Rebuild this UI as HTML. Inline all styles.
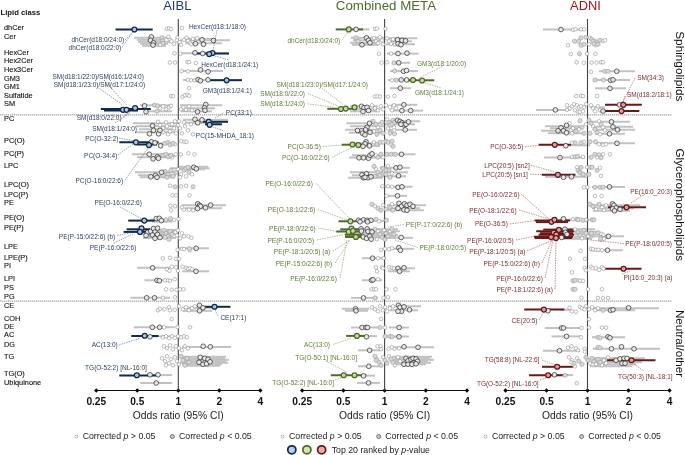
<!DOCTYPE html>
<html><head><meta charset="utf-8"><title>Lipid forest plot</title>
<style>html,body{margin:0;padding:0;background:#fff;width:685px;height:455px;overflow:hidden}</style>
</head><body>
<svg width="685" height="455" viewBox="0 0 685 455" style="display:block;will-change:transform">
<line x1="0" y1="114.9" x2="672.2" y2="114.9" stroke="#a4a4a4" stroke-width="1.1" stroke-dasharray="1.3,0.7"/>
<line x1="0" y1="301.1" x2="672.2" y2="301.1" stroke="#a4a4a4" stroke-width="1.1" stroke-dasharray="1.3,0.7"/>
<text x="0.5" y="14.5" font-family='"Liberation Sans", sans-serif' font-size="7.7" font-weight="bold" fill="#111">Lipid class</text>
<text x="4" y="29.9" font-family='"Liberation Sans", sans-serif' font-size="7.35" fill="#111" stroke="#111" stroke-width="0.12">dhCer</text>
<text x="4" y="38.6" font-family='"Liberation Sans", sans-serif' font-size="7.35" fill="#111" stroke="#111" stroke-width="0.12">Cer</text>
<text x="4" y="54.5" font-family='"Liberation Sans", sans-serif' font-size="7.35" fill="#111" stroke="#111" stroke-width="0.12">HexCer</text>
<text x="4" y="63.3" font-family='"Liberation Sans", sans-serif' font-size="7.35" fill="#111" stroke="#111" stroke-width="0.12">Hex2Cer</text>
<text x="4" y="72.1" font-family='"Liberation Sans", sans-serif' font-size="7.35" fill="#111" stroke="#111" stroke-width="0.12">Hex3Cer</text>
<text x="4" y="80.8" font-family='"Liberation Sans", sans-serif' font-size="7.35" fill="#111" stroke="#111" stroke-width="0.12">GM3</text>
<text x="4" y="89.4" font-family='"Liberation Sans", sans-serif' font-size="7.35" fill="#111" stroke="#111" stroke-width="0.12">GM1</text>
<text x="4" y="97.5" font-family='"Liberation Sans", sans-serif' font-size="7.35" fill="#111" stroke="#111" stroke-width="0.12">Sulfatide</text>
<text x="4" y="105.9" font-family='"Liberation Sans", sans-serif' font-size="7.35" fill="#111" stroke="#111" stroke-width="0.12">SM</text>
<text x="4" y="121.0" font-family='"Liberation Sans", sans-serif' font-size="7.35" fill="#111" stroke="#111" stroke-width="0.12">PC</text>
<text x="4" y="142.6" font-family='"Liberation Sans", sans-serif' font-size="7.35" fill="#111" stroke="#111" stroke-width="0.12">PC(O)</text>
<text x="4" y="155.7" font-family='"Liberation Sans", sans-serif' font-size="7.35" fill="#111" stroke="#111" stroke-width="0.12">PC(P)</text>
<text x="4" y="167.7" font-family='"Liberation Sans", sans-serif' font-size="7.35" fill="#111" stroke="#111" stroke-width="0.12">LPC</text>
<text x="4" y="187.2" font-family='"Liberation Sans", sans-serif' font-size="7.35" fill="#111" stroke="#111" stroke-width="0.12">LPC(O)</text>
<text x="4" y="196.9" font-family='"Liberation Sans", sans-serif' font-size="7.35" fill="#111" stroke="#111" stroke-width="0.12">LPC(P)</text>
<text x="4" y="205.1" font-family='"Liberation Sans", sans-serif' font-size="7.35" fill="#111" stroke="#111" stroke-width="0.12">PE</text>
<text x="4" y="219.7" font-family='"Liberation Sans", sans-serif' font-size="7.35" fill="#111" stroke="#111" stroke-width="0.12">PE(O)</text>
<text x="4" y="230.4" font-family='"Liberation Sans", sans-serif' font-size="7.35" fill="#111" stroke="#111" stroke-width="0.12">PE(P)</text>
<text x="4" y="248.9" font-family='"Liberation Sans", sans-serif' font-size="7.35" fill="#111" stroke="#111" stroke-width="0.12">LPE</text>
<text x="4" y="259.5" font-family='"Liberation Sans", sans-serif' font-size="7.35" fill="#111" stroke="#111" stroke-width="0.12">LPE(P)</text>
<text x="4" y="267.7" font-family='"Liberation Sans", sans-serif' font-size="7.35" fill="#111" stroke="#111" stroke-width="0.12">PI</text>
<text x="4" y="280.6" font-family='"Liberation Sans", sans-serif' font-size="7.35" fill="#111" stroke="#111" stroke-width="0.12">LPI</text>
<text x="4" y="289.9" font-family='"Liberation Sans", sans-serif' font-size="7.35" fill="#111" stroke="#111" stroke-width="0.12">PS</text>
<text x="4" y="298.7" font-family='"Liberation Sans", sans-serif' font-size="7.35" fill="#111" stroke="#111" stroke-width="0.12">PG</text>
<text x="4" y="307.5" font-family='"Liberation Sans", sans-serif' font-size="7.35" fill="#111" stroke="#111" stroke-width="0.12">CE</text>
<text x="4" y="320.6" font-family='"Liberation Sans", sans-serif' font-size="7.35" fill="#111" stroke="#111" stroke-width="0.12">COH</text>
<text x="4" y="328.5" font-family='"Liberation Sans", sans-serif' font-size="7.35" fill="#111" stroke="#111" stroke-width="0.12">DE</text>
<text x="4" y="336.8" font-family='"Liberation Sans", sans-serif' font-size="7.35" fill="#111" stroke="#111" stroke-width="0.12">AC</text>
<text x="4" y="347.0" font-family='"Liberation Sans", sans-serif' font-size="7.35" fill="#111" stroke="#111" stroke-width="0.12">DG</text>
<text x="4" y="359.1" font-family='"Liberation Sans", sans-serif' font-size="7.35" fill="#111" stroke="#111" stroke-width="0.12">TG</text>
<text x="4" y="376.2" font-family='"Liberation Sans", sans-serif' font-size="7.35" fill="#111" stroke="#111" stroke-width="0.12">TG(O)</text>
<text x="4" y="385.3" font-family='"Liberation Sans", sans-serif' font-size="7.35" fill="#111" stroke="#111" stroke-width="0.12">Ubiquinone</text>
<text transform="translate(676.3,31.2) rotate(90)" x="0" y="0" font-family='"Liberation Sans", sans-serif' font-size="11.8" fill="#111">Sphingolipids</text>
<text transform="translate(676.3,148.4) rotate(90)" x="0" y="0" font-family='"Liberation Sans", sans-serif' font-size="11.8" fill="#111">Glycerophospholipids</text>
<text transform="translate(676.3,309.9) rotate(90)" x="0" y="0" font-family='"Liberation Sans", sans-serif' font-size="11.65" fill="#111">Neutral/other</text>
<text x="177.3" y="9.9" text-anchor="middle" font-family='"Liberation Sans", sans-serif' font-size="13.0" fill="#1d3a78">AIBL</text>
<line x1="96.30000000000001" y1="390.5" x2="260.3" y2="390.5" stroke="#111" stroke-width="1"/>
<path d="M94.10000000000001,390.5 L96.30000000000001,388.3 L98.50000000000001,390.5 L96.30000000000001,392.7Z" fill="#000"/>
<text x="96.30000000000001" y="404.5" text-anchor="middle" font-family='"Liberation Sans", sans-serif' font-size="10.2" font-weight="bold" fill="#111">0.25</text>
<path d="M135.10000000000002,390.5 L137.3,388.3 L139.5,390.5 L137.3,392.7Z" fill="#000"/>
<text x="137.3" y="404.5" text-anchor="middle" font-family='"Liberation Sans", sans-serif' font-size="10.2" font-weight="bold" fill="#111">0.5</text>
<path d="M176.10000000000002,390.5 L178.3,388.3 L180.5,390.5 L178.3,392.7Z" fill="#000"/>
<text x="178.3" y="404.5" text-anchor="middle" font-family='"Liberation Sans", sans-serif' font-size="10.2" font-weight="bold" fill="#111">1</text>
<path d="M217.10000000000002,390.5 L219.3,388.3 L221.5,390.5 L219.3,392.7Z" fill="#000"/>
<text x="219.3" y="404.5" text-anchor="middle" font-family='"Liberation Sans", sans-serif' font-size="10.2" font-weight="bold" fill="#111">2</text>
<path d="M258.1,390.5 L260.3,388.3 L262.5,390.5 L260.3,392.7Z" fill="#000"/>
<text x="260.3" y="404.5" text-anchor="middle" font-family='"Liberation Sans", sans-serif' font-size="10.2" font-weight="bold" fill="#111">4</text>
<text x="178.3" y="419.4" text-anchor="middle" font-family='"Liberation Sans", sans-serif' font-size="10.3" fill="#222">Odds ratio (95% CI)</text>
<circle cx="76.30000000000001" cy="436.6" r="1.5" fill="#fff" stroke="#888" stroke-width="0.6"/>
<text x="82.70000000000002" y="438.8" font-family='"Liberation Sans", sans-serif' font-size="8.75" fill="#222">Corrected <tspan font-style="italic">p</tspan> &gt; 0.05</text>
<circle cx="172.4" cy="436.5" r="2" fill="#ccc" stroke="#444" stroke-width="0.7"/>
<text x="179.0" y="438.8" font-family='"Liberation Sans", sans-serif' font-size="8.75" fill="#222">Corrected <tspan font-style="italic">p</tspan> &lt; 0.05</text>
<line x1="134.0" y1="37.8" x2="169.0" y2="37.8" stroke="#c2c2c2" stroke-width="2.0"/>
<line x1="137.0" y1="39.8" x2="165.0" y2="39.8" stroke="#c2c2c2" stroke-width="2.0"/>
<line x1="138.0" y1="41.8" x2="170.0" y2="41.8" stroke="#c2c2c2" stroke-width="2.0"/>
<line x1="140.0" y1="43.8" x2="168.0" y2="43.8" stroke="#c2c2c2" stroke-width="2.0"/>
<line x1="142.0" y1="45.8" x2="166.0" y2="45.8" stroke="#c2c2c2" stroke-width="2.0"/>
<line x1="180.0" y1="40.3" x2="230.0" y2="40.3" stroke="#c2c2c2" stroke-width="2.0"/>
<line x1="185.0" y1="43.3" x2="222.0" y2="43.3" stroke="#c2c2c2" stroke-width="2.0"/>
<line x1="183.0" y1="38.8" x2="215.0" y2="38.8" stroke="#c2c2c2" stroke-width="2.0"/>
<line x1="180.0" y1="53.3" x2="229.0" y2="53.3" stroke="#c2c2c2" stroke-width="2.0"/>
<line x1="182.0" y1="71.1" x2="223.0" y2="71.1" stroke="#c2c2c2" stroke-width="2.0"/>
<line x1="183.0" y1="80.1" x2="242.0" y2="80.1" stroke="#c2c2c2" stroke-width="2.0"/>
<line x1="140.0" y1="105.3" x2="172.0" y2="105.3" stroke="#c2c2c2" stroke-width="2.0"/>
<line x1="145.0" y1="111.3" x2="172.0" y2="111.3" stroke="#c2c2c2" stroke-width="2.0"/>
<line x1="180.0" y1="105.3" x2="222.0" y2="105.3" stroke="#c2c2c2" stroke-width="2.0"/>
<line x1="183.0" y1="108.3" x2="215.0" y2="108.3" stroke="#c2c2c2" stroke-width="2.0"/>
<line x1="181.0" y1="111.3" x2="212.0" y2="111.3" stroke="#c2c2c2" stroke-width="2.0"/>
<line x1="133.0" y1="123.3" x2="178.0" y2="123.3" stroke="#c2c2c2" stroke-width="2.0"/>
<line x1="136.0" y1="126.3" x2="178.0" y2="126.3" stroke="#c2c2c2" stroke-width="2.0"/>
<line x1="139.0" y1="129.3" x2="176.0" y2="129.3" stroke="#c2c2c2" stroke-width="2.0"/>
<line x1="135.0" y1="132.3" x2="175.0" y2="132.3" stroke="#c2c2c2" stroke-width="2.0"/>
<line x1="183.0" y1="119.8" x2="228.0" y2="119.8" stroke="#c2c2c2" stroke-width="2.0"/>
<line x1="185.0" y1="122.8" x2="220.0" y2="122.8" stroke="#c2c2c2" stroke-width="2.0"/>
<line x1="150.0" y1="143.3" x2="172.0" y2="143.3" stroke="#c2c2c2" stroke-width="2.0"/>
<line x1="132.0" y1="154.3" x2="172.0" y2="154.3" stroke="#c2c2c2" stroke-width="2.0"/>
<line x1="137.0" y1="157.3" x2="170.0" y2="157.3" stroke="#c2c2c2" stroke-width="2.0"/>
<line x1="160.0" y1="155.8" x2="176.0" y2="155.8" stroke="#c2c2c2" stroke-width="2.0"/>
<line x1="135.0" y1="172.3" x2="178.0" y2="172.3" stroke="#c2c2c2" stroke-width="2.0"/>
<line x1="138.0" y1="175.3" x2="176.0" y2="175.3" stroke="#c2c2c2" stroke-width="2.0"/>
<line x1="140.0" y1="177.3" x2="175.0" y2="177.3" stroke="#c2c2c2" stroke-width="2.0"/>
<line x1="170.0" y1="168.3" x2="209.6" y2="168.3" stroke="#c2c2c2" stroke-width="2.0"/>
<line x1="178.0" y1="166.8" x2="208.0" y2="166.8" stroke="#c2c2c2" stroke-width="2.0"/>
<line x1="180.0" y1="169.3" x2="205.0" y2="169.3" stroke="#c2c2c2" stroke-width="2.0"/>
<line x1="182.0" y1="205.3" x2="226.0" y2="205.3" stroke="#c2c2c2" stroke-width="2.0"/>
<line x1="185.0" y1="208.3" x2="222.0" y2="208.3" stroke="#c2c2c2" stroke-width="2.0"/>
<line x1="150.0" y1="219.8" x2="174.0" y2="219.8" stroke="#c2c2c2" stroke-width="2.0"/>
<line x1="152.0" y1="221.60000000000002" x2="172.0" y2="221.60000000000002" stroke="#c2c2c2" stroke-width="2.0"/>
<line x1="140.0" y1="230.0" x2="176.0" y2="230.0" stroke="#c2c2c2" stroke-width="2.0"/>
<line x1="142.0" y1="232.0" x2="175.0" y2="232.0" stroke="#c2c2c2" stroke-width="2.0"/>
<line x1="141.0" y1="234.0" x2="178.0" y2="234.0" stroke="#c2c2c2" stroke-width="2.0"/>
<line x1="145.0" y1="236.0" x2="172.0" y2="236.0" stroke="#c2c2c2" stroke-width="2.0"/>
<line x1="143.0" y1="238.0" x2="176.0" y2="238.0" stroke="#c2c2c2" stroke-width="2.0"/>
<line x1="178.0" y1="248.3" x2="209.0" y2="248.3" stroke="#c2c2c2" stroke-width="2.0"/>
<line x1="137.2" y1="267.8" x2="170.0" y2="267.8" stroke="#c2c2c2" stroke-width="2.0"/>
<line x1="182.0" y1="271.3" x2="209.0" y2="271.3" stroke="#c2c2c2" stroke-width="2.0"/>
<line x1="144.5" y1="280.3" x2="172.0" y2="280.3" stroke="#c2c2c2" stroke-width="2.0"/>
<line x1="130.4" y1="297.8" x2="170.0" y2="297.8" stroke="#c2c2c2" stroke-width="2.0"/>
<line x1="182.0" y1="307.8" x2="215.0" y2="307.8" stroke="#c2c2c2" stroke-width="2.0"/>
<line x1="183.0" y1="310.8" x2="212.0" y2="310.8" stroke="#c2c2c2" stroke-width="2.0"/>
<line x1="133.8" y1="327.3" x2="174.7" y2="327.3" stroke="#c2c2c2" stroke-width="2.0"/>
<line x1="150.0" y1="336.3" x2="170.0" y2="336.3" stroke="#c2c2c2" stroke-width="2.0"/>
<line x1="182.0" y1="347.0" x2="231.0" y2="347.0" stroke="#c2c2c2" stroke-width="2.0"/>
<line x1="180.0" y1="356.8" x2="226.0" y2="356.8" stroke="#c2c2c2" stroke-width="2.0"/>
<line x1="182.0" y1="358.3" x2="225.0" y2="358.3" stroke="#c2c2c2" stroke-width="2.0"/>
<line x1="181.0" y1="359.8" x2="229.0" y2="359.8" stroke="#c2c2c2" stroke-width="2.0"/>
<line x1="183.0" y1="361.3" x2="226.0" y2="361.3" stroke="#c2c2c2" stroke-width="2.0"/>
<line x1="180.0" y1="362.8" x2="228.0" y2="362.8" stroke="#c2c2c2" stroke-width="2.0"/>
<line x1="182.0" y1="364.3" x2="222.0" y2="364.3" stroke="#c2c2c2" stroke-width="2.0"/>
<line x1="184.0" y1="365.8" x2="220.0" y2="365.8" stroke="#c2c2c2" stroke-width="2.0"/>
<line x1="150.0" y1="375.1" x2="172.0" y2="375.1" stroke="#c2c2c2" stroke-width="2.0"/>
<line x1="140.3" y1="383.0" x2="172.0" y2="383.0" stroke="#c2c2c2" stroke-width="2.0"/>
<line x1="178.3" y1="19" x2="178.3" y2="390.5" stroke="#444" stroke-width="1.1"/>
<line x1="115.5" y1="29.5" x2="152.7" y2="29.5" stroke="#102a4c" stroke-width="2.0" stroke-linecap="butt"/>
<line x1="197.0" y1="53.5" x2="229.0" y2="53.5" stroke="#102a4c" stroke-width="2.0" stroke-linecap="butt"/>
<line x1="210.0" y1="80.2" x2="242.0" y2="80.2" stroke="#102a4c" stroke-width="2.0" stroke-linecap="butt"/>
<line x1="100.8" y1="108.89999999999999" x2="150.8" y2="108.89999999999999" stroke="#102a4c" stroke-width="2.0" stroke-linecap="butt"/>
<line x1="104.0" y1="110.5" x2="138.0" y2="110.5" stroke="#102a4c" stroke-width="2.0" stroke-linecap="butt"/>
<line x1="203.0" y1="121.8" x2="228.0" y2="121.8" stroke="#102a4c" stroke-width="2.0" stroke-linecap="butt"/>
<line x1="205.0" y1="124.3" x2="222.0" y2="124.3" stroke="#102a4c" stroke-width="2.0" stroke-linecap="butt"/>
<line x1="119.3" y1="142.3" x2="158.5" y2="142.3" stroke="#102a4c" stroke-width="2.0" stroke-linecap="butt"/>
<line x1="137.0" y1="144.5" x2="157.0" y2="144.5" stroke="#102a4c" stroke-width="2.0" stroke-linecap="butt"/>
<line x1="128.2" y1="220.60000000000002" x2="154.7" y2="220.60000000000002" stroke="#102a4c" stroke-width="2.0" stroke-linecap="butt"/>
<line x1="126.6" y1="229.3" x2="150.0" y2="229.3" stroke="#102a4c" stroke-width="2.0" stroke-linecap="butt"/>
<line x1="123.6" y1="231.9" x2="146.0" y2="231.9" stroke="#102a4c" stroke-width="2.0" stroke-linecap="butt"/>
<line x1="205.0" y1="306.8" x2="230.5" y2="306.8" stroke="#102a4c" stroke-width="2.0" stroke-linecap="butt"/>
<line x1="131.3" y1="336.0" x2="158.6" y2="336.0" stroke="#102a4c" stroke-width="2.0" stroke-linecap="butt"/>
<line x1="119.3" y1="375.40000000000003" x2="156.0" y2="375.40000000000003" stroke="#102a4c" stroke-width="2.0" stroke-linecap="butt"/>
<circle cx="166.8" cy="28.8" r="1.8" fill="#fff" stroke="#888" stroke-width="0.55"/>
<circle cx="169.0" cy="28.3" r="1.8" fill="#fff" stroke="#888" stroke-width="0.55"/>
<circle cx="171.0" cy="29.1" r="1.8" fill="#fff" stroke="#888" stroke-width="0.55"/>
<circle cx="182.0" cy="28.0" r="1.8" fill="#fff" stroke="#888" stroke-width="0.55"/>
<circle cx="160.5" cy="44.8" r="1.8" fill="#fff" stroke="#888" stroke-width="0.55"/>
<circle cx="168.5" cy="36.8" r="1.8" fill="#fff" stroke="#888" stroke-width="0.55"/>
<circle cx="170.0" cy="39.8" r="1.8" fill="#fff" stroke="#888" stroke-width="0.55"/>
<circle cx="171.5" cy="41.3" r="1.8" fill="#fff" stroke="#888" stroke-width="0.55"/>
<circle cx="174.0" cy="43.8" r="1.8" fill="#fff" stroke="#888" stroke-width="0.55"/>
<circle cx="177.5" cy="37.8" r="1.8" fill="#fff" stroke="#888" stroke-width="0.55"/>
<circle cx="177.0" cy="40.3" r="1.8" fill="#fff" stroke="#888" stroke-width="0.55"/>
<circle cx="179.5" cy="42.3" r="1.8" fill="#fff" stroke="#888" stroke-width="0.55"/>
<circle cx="181.0" cy="44.8" r="1.8" fill="#fff" stroke="#888" stroke-width="0.55"/>
<circle cx="186.5" cy="37.8" r="1.8" fill="#fff" stroke="#888" stroke-width="0.55"/>
<circle cx="188.0" cy="40.8" r="1.8" fill="#fff" stroke="#888" stroke-width="0.55"/>
<circle cx="190.0" cy="42.8" r="1.8" fill="#fff" stroke="#888" stroke-width="0.55"/>
<circle cx="184.0" cy="39.8" r="1.8" fill="#fff" stroke="#888" stroke-width="0.55"/>
<circle cx="193.0" cy="38.8" r="1.8" fill="#fff" stroke="#888" stroke-width="0.55"/>
<circle cx="191.0" cy="44.3" r="1.8" fill="#fff" stroke="#888" stroke-width="0.55"/>
<circle cx="197.0" cy="38.3" r="1.8" fill="#fff" stroke="#888" stroke-width="0.55"/>
<circle cx="174.5" cy="53.3" r="1.8" fill="#fff" stroke="#888" stroke-width="0.55"/>
<circle cx="180.5" cy="53.8" r="1.8" fill="#fff" stroke="#888" stroke-width="0.55"/>
<circle cx="169.8" cy="62.5" r="1.8" fill="#fff" stroke="#888" stroke-width="0.55"/>
<circle cx="175.0" cy="62.5" r="1.8" fill="#fff" stroke="#888" stroke-width="0.55"/>
<circle cx="187.5" cy="62.099999999999994" r="1.8" fill="#fff" stroke="#888" stroke-width="0.55"/>
<circle cx="189.0" cy="62.099999999999994" r="1.8" fill="#fff" stroke="#888" stroke-width="0.55"/>
<circle cx="195.8" cy="63.0" r="1.8" fill="#fff" stroke="#888" stroke-width="0.55"/>
<circle cx="181.6" cy="71.1" r="1.8" fill="#fff" stroke="#888" stroke-width="0.55"/>
<circle cx="188.0" cy="71.3" r="1.8" fill="#fff" stroke="#888" stroke-width="0.55"/>
<circle cx="187.8" cy="79.89999999999999" r="1.8" fill="#fff" stroke="#888" stroke-width="0.55"/>
<circle cx="191.0" cy="80.3" r="1.8" fill="#fff" stroke="#888" stroke-width="0.55"/>
<circle cx="195.0" cy="80.3" r="1.8" fill="#fff" stroke="#888" stroke-width="0.55"/>
<circle cx="189.0" cy="88.3" r="1.8" fill="#fff" stroke="#888" stroke-width="0.55"/>
<circle cx="171.2" cy="96.1" r="1.8" fill="#fff" stroke="#888" stroke-width="0.55"/>
<circle cx="173.0" cy="96.1" r="1.8" fill="#fff" stroke="#888" stroke-width="0.55"/>
<circle cx="182.5" cy="96.8" r="1.8" fill="#fff" stroke="#888" stroke-width="0.55"/>
<circle cx="185.0" cy="95.3" r="1.8" fill="#fff" stroke="#888" stroke-width="0.55"/>
<circle cx="187.5" cy="94.8" r="1.8" fill="#fff" stroke="#888" stroke-width="0.55"/>
<circle cx="189.0" cy="95.8" r="1.8" fill="#fff" stroke="#888" stroke-width="0.55"/>
<circle cx="160.0" cy="108.3" r="1.8" fill="#fff" stroke="#888" stroke-width="0.55"/>
<circle cx="163.0" cy="106.3" r="1.8" fill="#fff" stroke="#888" stroke-width="0.55"/>
<circle cx="166.0" cy="109.3" r="1.8" fill="#fff" stroke="#888" stroke-width="0.55"/>
<circle cx="169.0" cy="107.3" r="1.8" fill="#fff" stroke="#888" stroke-width="0.55"/>
<circle cx="171.0" cy="105.8" r="1.8" fill="#fff" stroke="#888" stroke-width="0.55"/>
<circle cx="181.0" cy="109.3" r="1.8" fill="#fff" stroke="#888" stroke-width="0.55"/>
<circle cx="183.5" cy="107.3" r="1.8" fill="#fff" stroke="#888" stroke-width="0.55"/>
<circle cx="186.0" cy="109.8" r="1.8" fill="#fff" stroke="#888" stroke-width="0.55"/>
<circle cx="189.0" cy="106.3" r="1.8" fill="#fff" stroke="#888" stroke-width="0.55"/>
<circle cx="192.0" cy="110.3" r="1.8" fill="#fff" stroke="#888" stroke-width="0.55"/>
<circle cx="158.0" cy="121.8" r="1.8" fill="#fff" stroke="#888" stroke-width="0.55"/>
<circle cx="160.0" cy="125.3" r="1.8" fill="#fff" stroke="#888" stroke-width="0.55"/>
<circle cx="163.0" cy="128.3" r="1.8" fill="#fff" stroke="#888" stroke-width="0.55"/>
<circle cx="166.0" cy="122.3" r="1.8" fill="#fff" stroke="#888" stroke-width="0.55"/>
<circle cx="167.0" cy="126.3" r="1.8" fill="#fff" stroke="#888" stroke-width="0.55"/>
<circle cx="170.0" cy="131.3" r="1.8" fill="#fff" stroke="#888" stroke-width="0.55"/>
<circle cx="172.0" cy="124.3" r="1.8" fill="#fff" stroke="#888" stroke-width="0.55"/>
<circle cx="174.0" cy="128.3" r="1.8" fill="#fff" stroke="#888" stroke-width="0.55"/>
<circle cx="176.0" cy="133.3" r="1.8" fill="#fff" stroke="#888" stroke-width="0.55"/>
<circle cx="175.0" cy="121.3" r="1.8" fill="#fff" stroke="#888" stroke-width="0.55"/>
<circle cx="168.0" cy="134.3" r="1.8" fill="#fff" stroke="#888" stroke-width="0.55"/>
<circle cx="163.0" cy="132.3" r="1.8" fill="#fff" stroke="#888" stroke-width="0.55"/>
<circle cx="178.0" cy="125.3" r="1.8" fill="#fff" stroke="#888" stroke-width="0.55"/>
<circle cx="180.0" cy="128.3" r="1.8" fill="#fff" stroke="#888" stroke-width="0.55"/>
<circle cx="182.0" cy="133.3" r="1.8" fill="#fff" stroke="#888" stroke-width="0.55"/>
<circle cx="185.0" cy="126.3" r="1.8" fill="#fff" stroke="#888" stroke-width="0.55"/>
<circle cx="188.0" cy="130.3" r="1.8" fill="#fff" stroke="#888" stroke-width="0.55"/>
<circle cx="191.0" cy="124.3" r="1.8" fill="#fff" stroke="#888" stroke-width="0.55"/>
<circle cx="193.0" cy="134.3" r="1.8" fill="#fff" stroke="#888" stroke-width="0.55"/>
<circle cx="179.0" cy="121.3" r="1.8" fill="#fff" stroke="#888" stroke-width="0.55"/>
<circle cx="184.0" cy="122.3" r="1.8" fill="#fff" stroke="#888" stroke-width="0.55"/>
<circle cx="175.0" cy="144.3" r="1.8" fill="#fff" stroke="#888" stroke-width="0.55"/>
<circle cx="181.4" cy="141.3" r="1.8" fill="#fff" stroke="#888" stroke-width="0.55"/>
<circle cx="184.5" cy="141.8" r="1.8" fill="#fff" stroke="#888" stroke-width="0.55"/>
<circle cx="186.5" cy="141.8" r="1.8" fill="#fff" stroke="#888" stroke-width="0.55"/>
<circle cx="172.0" cy="157.3" r="1.8" fill="#fff" stroke="#888" stroke-width="0.55"/>
<circle cx="175.8" cy="154.3" r="1.8" fill="#fff" stroke="#888" stroke-width="0.55"/>
<circle cx="180.7" cy="154.3" r="1.8" fill="#fff" stroke="#888" stroke-width="0.55"/>
<circle cx="188.4" cy="153.3" r="1.8" fill="#fff" stroke="#888" stroke-width="0.55"/>
<circle cx="194.4" cy="154.3" r="1.8" fill="#fff" stroke="#888" stroke-width="0.55"/>
<circle cx="178.0" cy="169.3" r="1.8" fill="#fff" stroke="#888" stroke-width="0.55"/>
<circle cx="181.0" cy="174.3" r="1.8" fill="#fff" stroke="#888" stroke-width="0.55"/>
<circle cx="186.0" cy="176.3" r="1.8" fill="#fff" stroke="#888" stroke-width="0.55"/>
<circle cx="192.0" cy="174.3" r="1.8" fill="#fff" stroke="#888" stroke-width="0.55"/>
<circle cx="180.0" cy="177.3" r="1.8" fill="#fff" stroke="#888" stroke-width="0.55"/>
<circle cx="170.0" cy="185.8" r="1.8" fill="#fff" stroke="#888" stroke-width="0.55"/>
<circle cx="181.0" cy="186.3" r="1.8" fill="#fff" stroke="#888" stroke-width="0.55"/>
<circle cx="186.0" cy="185.8" r="1.8" fill="#fff" stroke="#888" stroke-width="0.55"/>
<circle cx="172.5" cy="195.3" r="1.8" fill="#fff" stroke="#888" stroke-width="0.55"/>
<circle cx="176.0" cy="195.3" r="1.8" fill="#fff" stroke="#888" stroke-width="0.55"/>
<circle cx="189.5" cy="195.3" r="1.8" fill="#fff" stroke="#888" stroke-width="0.55"/>
<circle cx="175.0" cy="206.3" r="1.8" fill="#fff" stroke="#888" stroke-width="0.55"/>
<circle cx="182.0" cy="207.3" r="1.8" fill="#fff" stroke="#888" stroke-width="0.55"/>
<circle cx="184.0" cy="209.8" r="1.8" fill="#fff" stroke="#888" stroke-width="0.55"/>
<circle cx="189.0" cy="209.8" r="1.8" fill="#fff" stroke="#888" stroke-width="0.55"/>
<circle cx="193.0" cy="210.3" r="1.8" fill="#fff" stroke="#888" stroke-width="0.55"/>
<circle cx="170.5" cy="205.8" r="1.8" fill="#fff" stroke="#888" stroke-width="0.55"/>
<circle cx="171.0" cy="210.3" r="1.8" fill="#fff" stroke="#888" stroke-width="0.55"/>
<circle cx="174.0" cy="219.8" r="1.8" fill="#fff" stroke="#888" stroke-width="0.55"/>
<circle cx="178.6" cy="219.0" r="1.8" fill="#fff" stroke="#888" stroke-width="0.55"/>
<circle cx="175.3" cy="232.3" r="1.8" fill="#fff" stroke="#888" stroke-width="0.55"/>
<circle cx="177.0" cy="235.3" r="1.8" fill="#fff" stroke="#888" stroke-width="0.55"/>
<circle cx="178.0" cy="230.3" r="1.8" fill="#fff" stroke="#888" stroke-width="0.55"/>
<circle cx="180.0" cy="238.3" r="1.8" fill="#fff" stroke="#888" stroke-width="0.55"/>
<circle cx="182.0" cy="233.3" r="1.8" fill="#fff" stroke="#888" stroke-width="0.55"/>
<circle cx="184.0" cy="236.3" r="1.8" fill="#fff" stroke="#888" stroke-width="0.55"/>
<circle cx="188.4" cy="236.3" r="1.8" fill="#fff" stroke="#888" stroke-width="0.55"/>
<circle cx="191.4" cy="237.8" r="1.8" fill="#fff" stroke="#888" stroke-width="0.55"/>
<circle cx="190.0" cy="250.3" r="1.8" fill="#fff" stroke="#888" stroke-width="0.55"/>
<circle cx="177.6" cy="249.8" r="1.8" fill="#fff" stroke="#888" stroke-width="0.55"/>
<circle cx="182.0" cy="248.8" r="1.8" fill="#fff" stroke="#888" stroke-width="0.55"/>
<circle cx="184.0" cy="249.3" r="1.8" fill="#fff" stroke="#888" stroke-width="0.55"/>
<circle cx="162.8" cy="258.3" r="1.8" fill="#fff" stroke="#888" stroke-width="0.55"/>
<circle cx="170.0" cy="257.8" r="1.8" fill="#fff" stroke="#888" stroke-width="0.55"/>
<circle cx="175.9" cy="258.8" r="1.8" fill="#fff" stroke="#888" stroke-width="0.55"/>
<circle cx="179.0" cy="258.8" r="1.8" fill="#fff" stroke="#888" stroke-width="0.55"/>
<circle cx="167.0" cy="269.3" r="1.8" fill="#fff" stroke="#888" stroke-width="0.55"/>
<circle cx="169.5" cy="270.8" r="1.8" fill="#fff" stroke="#888" stroke-width="0.55"/>
<circle cx="172.0" cy="266.8" r="1.8" fill="#fff" stroke="#888" stroke-width="0.55"/>
<circle cx="176.0" cy="267.3" r="1.8" fill="#fff" stroke="#888" stroke-width="0.55"/>
<circle cx="178.0" cy="270.8" r="1.8" fill="#fff" stroke="#888" stroke-width="0.55"/>
<circle cx="182.6" cy="266.8" r="1.8" fill="#fff" stroke="#888" stroke-width="0.55"/>
<circle cx="186.0" cy="267.8" r="1.8" fill="#fff" stroke="#888" stroke-width="0.55"/>
<circle cx="188.0" cy="268.8" r="1.8" fill="#fff" stroke="#888" stroke-width="0.55"/>
<circle cx="190.0" cy="268.3" r="1.8" fill="#fff" stroke="#888" stroke-width="0.55"/>
<circle cx="192.0" cy="269.3" r="1.8" fill="#fff" stroke="#888" stroke-width="0.55"/>
<circle cx="165.0" cy="280.3" r="1.8" fill="#fff" stroke="#888" stroke-width="0.55"/>
<circle cx="168.0" cy="280.3" r="1.8" fill="#fff" stroke="#888" stroke-width="0.55"/>
<circle cx="170.0" cy="280.8" r="1.8" fill="#fff" stroke="#888" stroke-width="0.55"/>
<circle cx="174.7" cy="279.3" r="1.8" fill="#fff" stroke="#888" stroke-width="0.55"/>
<circle cx="166.0" cy="289.3" r="1.8" fill="#fff" stroke="#888" stroke-width="0.55"/>
<circle cx="171.7" cy="289.8" r="1.8" fill="#fff" stroke="#888" stroke-width="0.55"/>
<circle cx="176.6" cy="289.8" r="1.8" fill="#fff" stroke="#888" stroke-width="0.55"/>
<circle cx="180.0" cy="289.3" r="1.8" fill="#fff" stroke="#888" stroke-width="0.55"/>
<circle cx="183.5" cy="289.3" r="1.8" fill="#fff" stroke="#888" stroke-width="0.55"/>
<circle cx="163.0" cy="297.8" r="1.8" fill="#fff" stroke="#888" stroke-width="0.55"/>
<circle cx="175.0" cy="297.3" r="1.8" fill="#fff" stroke="#888" stroke-width="0.55"/>
<circle cx="158.0" cy="310.3" r="1.8" fill="#fff" stroke="#888" stroke-width="0.55"/>
<circle cx="160.0" cy="308.8" r="1.8" fill="#fff" stroke="#888" stroke-width="0.55"/>
<circle cx="164.5" cy="309.3" r="1.8" fill="#fff" stroke="#888" stroke-width="0.55"/>
<circle cx="169.0" cy="307.3" r="1.8" fill="#fff" stroke="#888" stroke-width="0.55"/>
<circle cx="170.0" cy="310.3" r="1.8" fill="#fff" stroke="#888" stroke-width="0.55"/>
<circle cx="174.8" cy="309.8" r="1.8" fill="#fff" stroke="#888" stroke-width="0.55"/>
<circle cx="179.0" cy="306.3" r="1.8" fill="#fff" stroke="#888" stroke-width="0.55"/>
<circle cx="183.0" cy="309.3" r="1.8" fill="#fff" stroke="#888" stroke-width="0.55"/>
<circle cx="186.0" cy="307.3" r="1.8" fill="#fff" stroke="#888" stroke-width="0.55"/>
<circle cx="189.0" cy="310.3" r="1.8" fill="#fff" stroke="#888" stroke-width="0.55"/>
<circle cx="192.0" cy="308.3" r="1.8" fill="#fff" stroke="#888" stroke-width="0.55"/>
<circle cx="195.0" cy="306.3" r="1.8" fill="#fff" stroke="#888" stroke-width="0.55"/>
<circle cx="171.7" cy="319.1" r="1.8" fill="#fff" stroke="#888" stroke-width="0.55"/>
<circle cx="164.0" cy="327.3" r="1.8" fill="#fff" stroke="#888" stroke-width="0.55"/>
<circle cx="177.5" cy="327.1" r="1.8" fill="#fff" stroke="#888" stroke-width="0.55"/>
<circle cx="190.0" cy="327.3" r="1.8" fill="#fff" stroke="#888" stroke-width="0.55"/>
<circle cx="163.0" cy="337.3" r="1.8" fill="#fff" stroke="#888" stroke-width="0.55"/>
<circle cx="166.0" cy="336.3" r="1.8" fill="#fff" stroke="#888" stroke-width="0.55"/>
<circle cx="169.0" cy="338.3" r="1.8" fill="#fff" stroke="#888" stroke-width="0.55"/>
<circle cx="172.0" cy="336.3" r="1.8" fill="#fff" stroke="#888" stroke-width="0.55"/>
<circle cx="175.0" cy="337.8" r="1.8" fill="#fff" stroke="#888" stroke-width="0.55"/>
<circle cx="178.0" cy="336.3" r="1.8" fill="#fff" stroke="#888" stroke-width="0.55"/>
<circle cx="181.0" cy="337.3" r="1.8" fill="#fff" stroke="#888" stroke-width="0.55"/>
<circle cx="184.0" cy="336.3" r="1.8" fill="#fff" stroke="#888" stroke-width="0.55"/>
<circle cx="187.0" cy="337.3" r="1.8" fill="#fff" stroke="#888" stroke-width="0.55"/>
<circle cx="164.0" cy="346.3" r="1.8" fill="#fff" stroke="#888" stroke-width="0.55"/>
<circle cx="167.0" cy="348.3" r="1.8" fill="#fff" stroke="#888" stroke-width="0.55"/>
<circle cx="170.0" cy="345.3" r="1.8" fill="#fff" stroke="#888" stroke-width="0.55"/>
<circle cx="173.0" cy="349.3" r="1.8" fill="#fff" stroke="#888" stroke-width="0.55"/>
<circle cx="176.0" cy="346.3" r="1.8" fill="#fff" stroke="#888" stroke-width="0.55"/>
<circle cx="179.0" cy="348.3" r="1.8" fill="#fff" stroke="#888" stroke-width="0.55"/>
<circle cx="182.0" cy="350.3" r="1.8" fill="#fff" stroke="#888" stroke-width="0.55"/>
<circle cx="185.0" cy="346.3" r="1.8" fill="#fff" stroke="#888" stroke-width="0.55"/>
<circle cx="188.0" cy="348.3" r="1.8" fill="#fff" stroke="#888" stroke-width="0.55"/>
<circle cx="162.0" cy="358.3" r="1.8" fill="#fff" stroke="#888" stroke-width="0.55"/>
<circle cx="165.0" cy="361.3" r="1.8" fill="#fff" stroke="#888" stroke-width="0.55"/>
<circle cx="167.0" cy="356.3" r="1.8" fill="#fff" stroke="#888" stroke-width="0.55"/>
<circle cx="169.0" cy="363.3" r="1.8" fill="#fff" stroke="#888" stroke-width="0.55"/>
<circle cx="171.0" cy="359.3" r="1.8" fill="#fff" stroke="#888" stroke-width="0.55"/>
<circle cx="173.0" cy="365.3" r="1.8" fill="#fff" stroke="#888" stroke-width="0.55"/>
<circle cx="175.0" cy="357.3" r="1.8" fill="#fff" stroke="#888" stroke-width="0.55"/>
<circle cx="177.0" cy="361.3" r="1.8" fill="#fff" stroke="#888" stroke-width="0.55"/>
<circle cx="179.0" cy="364.3" r="1.8" fill="#fff" stroke="#888" stroke-width="0.55"/>
<circle cx="166.0" cy="365.3" r="1.8" fill="#fff" stroke="#888" stroke-width="0.55"/>
<circle cx="162.0" cy="37.8" r="2.1" fill="#d8d8d8" stroke="#999" stroke-width="0.6"/>
<circle cx="162.5" cy="40.8" r="2.1" fill="#d8d8d8" stroke="#999" stroke-width="0.6"/>
<circle cx="163.0" cy="43.3" r="2.1" fill="#d8d8d8" stroke="#999" stroke-width="0.6"/>
<circle cx="154.5" cy="105.1" r="2.1" fill="#d8d8d8" stroke="#999" stroke-width="0.6"/>
<circle cx="157.0" cy="111.3" r="2.1" fill="#d8d8d8" stroke="#999" stroke-width="0.6"/>
<circle cx="157.5" cy="105.8" r="2.1" fill="#d8d8d8" stroke="#999" stroke-width="0.6"/>
<circle cx="165.0" cy="143.3" r="2.1" fill="#d8d8d8" stroke="#999" stroke-width="0.6"/>
<circle cx="168.0" cy="142.3" r="2.1" fill="#d8d8d8" stroke="#999" stroke-width="0.6"/>
<circle cx="170.0" cy="144.8" r="2.1" fill="#d8d8d8" stroke="#999" stroke-width="0.6"/>
<circle cx="173.0" cy="143.3" r="2.1" fill="#d8d8d8" stroke="#999" stroke-width="0.6"/>
<circle cx="163.0" cy="155.3" r="2.1" fill="#d8d8d8" stroke="#999" stroke-width="0.6"/>
<circle cx="166.0" cy="154.3" r="2.1" fill="#d8d8d8" stroke="#999" stroke-width="0.6"/>
<circle cx="168.0" cy="156.8" r="2.1" fill="#d8d8d8" stroke="#999" stroke-width="0.6"/>
<circle cx="171.0" cy="155.3" r="2.1" fill="#d8d8d8" stroke="#999" stroke-width="0.6"/>
<circle cx="165.0" cy="171.3" r="2.1" fill="#d8d8d8" stroke="#999" stroke-width="0.6"/>
<circle cx="168.0" cy="174.3" r="2.1" fill="#d8d8d8" stroke="#999" stroke-width="0.6"/>
<circle cx="171.0" cy="170.3" r="2.1" fill="#d8d8d8" stroke="#999" stroke-width="0.6"/>
<circle cx="173.0" cy="176.3" r="2.1" fill="#d8d8d8" stroke="#999" stroke-width="0.6"/>
<circle cx="176.0" cy="172.3" r="2.1" fill="#d8d8d8" stroke="#999" stroke-width="0.6"/>
<circle cx="163.0" cy="175.3" r="2.1" fill="#d8d8d8" stroke="#999" stroke-width="0.6"/>
<circle cx="167.0" cy="177.3" r="2.1" fill="#d8d8d8" stroke="#999" stroke-width="0.6"/>
<circle cx="184.0" cy="170.3" r="2.1" fill="#d8d8d8" stroke="#999" stroke-width="0.6"/>
<circle cx="186.0" cy="168.3" r="2.1" fill="#d8d8d8" stroke="#999" stroke-width="0.6"/>
<circle cx="189.0" cy="172.3" r="2.1" fill="#d8d8d8" stroke="#999" stroke-width="0.6"/>
<circle cx="188.0" cy="167.3" r="2.1" fill="#d8d8d8" stroke="#999" stroke-width="0.6"/>
<circle cx="175.0" cy="186.8" r="2.1" fill="#d8d8d8" stroke="#999" stroke-width="0.6"/>
<circle cx="193.0" cy="186.8" r="2.1" fill="#d8d8d8" stroke="#999" stroke-width="0.6"/>
<circle cx="166.0" cy="219.8" r="2.1" fill="#d8d8d8" stroke="#999" stroke-width="0.6"/>
<circle cx="170.5" cy="218.60000000000002" r="2.1" fill="#d8d8d8" stroke="#999" stroke-width="0.6"/>
<circle cx="164.0" cy="230.3" r="2.1" fill="#d8d8d8" stroke="#999" stroke-width="0.6"/>
<circle cx="166.0" cy="233.3" r="2.1" fill="#d8d8d8" stroke="#999" stroke-width="0.6"/>
<circle cx="168.0" cy="236.3" r="2.1" fill="#d8d8d8" stroke="#999" stroke-width="0.6"/>
<circle cx="170.0" cy="231.3" r="2.1" fill="#d8d8d8" stroke="#999" stroke-width="0.6"/>
<circle cx="172.0" cy="234.3" r="2.1" fill="#d8d8d8" stroke="#999" stroke-width="0.6"/>
<circle cx="165.0" cy="237.3" r="2.1" fill="#d8d8d8" stroke="#999" stroke-width="0.6"/>
<circle cx="169.0" cy="239.3" r="2.1" fill="#d8d8d8" stroke="#999" stroke-width="0.6"/>
<circle cx="189.3" cy="248.60000000000002" r="2.1" fill="#d8d8d8" stroke="#999" stroke-width="0.6"/>
<circle cx="181.0" cy="356.3" r="2.1" fill="#d8d8d8" stroke="#999" stroke-width="0.6"/>
<circle cx="183.0" cy="360.3" r="2.1" fill="#d8d8d8" stroke="#999" stroke-width="0.6"/>
<circle cx="185.0" cy="365.3" r="2.1" fill="#d8d8d8" stroke="#999" stroke-width="0.6"/>
<circle cx="187.0" cy="358.3" r="2.1" fill="#d8d8d8" stroke="#999" stroke-width="0.6"/>
<circle cx="189.0" cy="362.3" r="2.1" fill="#d8d8d8" stroke="#999" stroke-width="0.6"/>
<circle cx="151.3" cy="37.0" r="2.35" fill="#e6e6e6" stroke="#2a2a2a" stroke-width="0.7"/>
<circle cx="150.5" cy="40.3" r="2.35" fill="#e6e6e6" stroke="#2a2a2a" stroke-width="0.7"/>
<circle cx="153.5" cy="42.8" r="2.35" fill="#e6e6e6" stroke="#2a2a2a" stroke-width="0.7"/>
<circle cx="153.0" cy="45.099999999999994" r="2.35" fill="#e6e6e6" stroke="#2a2a2a" stroke-width="0.7"/>
<circle cx="202.0" cy="39.8" r="2.35" fill="#e6e6e6" stroke="#2a2a2a" stroke-width="0.7"/>
<circle cx="213.5" cy="40.5" r="2.35" fill="#e6e6e6" stroke="#2a2a2a" stroke-width="0.7"/>
<circle cx="195.5" cy="43.699999999999996" r="2.35" fill="#e6e6e6" stroke="#2a2a2a" stroke-width="0.7"/>
<circle cx="203.5" cy="44.3" r="2.35" fill="#e6e6e6" stroke="#2a2a2a" stroke-width="0.7"/>
<circle cx="195.0" cy="52.8" r="2.35" fill="#e6e6e6" stroke="#2a2a2a" stroke-width="0.7"/>
<circle cx="202.7" cy="53.5" r="2.35" fill="#e6e6e6" stroke="#2a2a2a" stroke-width="0.7"/>
<circle cx="200.5" cy="69.89999999999999" r="2.35" fill="#e6e6e6" stroke="#2a2a2a" stroke-width="0.7"/>
<circle cx="208.0" cy="71.8" r="2.35" fill="#e6e6e6" stroke="#2a2a2a" stroke-width="0.7"/>
<circle cx="198.1" cy="79.6" r="2.35" fill="#e6e6e6" stroke="#2a2a2a" stroke-width="0.7"/>
<circle cx="200.4" cy="80.8" r="2.35" fill="#e6e6e6" stroke="#2a2a2a" stroke-width="0.7"/>
<circle cx="208.0" cy="79.8" r="2.35" fill="#e6e6e6" stroke="#2a2a2a" stroke-width="0.7"/>
<circle cx="144.5" cy="105.8" r="2.35" fill="#e6e6e6" stroke="#2a2a2a" stroke-width="0.7"/>
<circle cx="146.0" cy="111.8" r="2.35" fill="#e6e6e6" stroke="#2a2a2a" stroke-width="0.7"/>
<circle cx="205.8" cy="104.5" r="2.35" fill="#e6e6e6" stroke="#2a2a2a" stroke-width="0.7"/>
<circle cx="204.5" cy="107.8" r="2.35" fill="#e6e6e6" stroke="#2a2a2a" stroke-width="0.7"/>
<circle cx="205.0" cy="110.3" r="2.35" fill="#e6e6e6" stroke="#2a2a2a" stroke-width="0.7"/>
<circle cx="197.5" cy="111.8" r="2.35" fill="#e6e6e6" stroke="#2a2a2a" stroke-width="0.7"/>
<circle cx="152.6" cy="125.8" r="2.35" fill="#e6e6e6" stroke="#2a2a2a" stroke-width="0.7"/>
<circle cx="153.5" cy="130.3" r="2.35" fill="#e6e6e6" stroke="#2a2a2a" stroke-width="0.7"/>
<circle cx="149.5" cy="133.8" r="2.35" fill="#e6e6e6" stroke="#2a2a2a" stroke-width="0.7"/>
<circle cx="158.6" cy="133.8" r="2.35" fill="#e6e6e6" stroke="#2a2a2a" stroke-width="0.7"/>
<circle cx="160.0" cy="130.3" r="2.35" fill="#e6e6e6" stroke="#2a2a2a" stroke-width="0.7"/>
<circle cx="195.0" cy="119.3" r="2.35" fill="#e6e6e6" stroke="#2a2a2a" stroke-width="0.7"/>
<circle cx="197.7" cy="122.8" r="2.35" fill="#e6e6e6" stroke="#2a2a2a" stroke-width="0.7"/>
<circle cx="202.0" cy="119.8" r="2.35" fill="#e6e6e6" stroke="#2a2a2a" stroke-width="0.7"/>
<circle cx="151.4" cy="141.8" r="2.35" fill="#e6e6e6" stroke="#2a2a2a" stroke-width="0.7"/>
<circle cx="155.0" cy="142.8" r="2.35" fill="#e6e6e6" stroke="#2a2a2a" stroke-width="0.7"/>
<circle cx="160.6" cy="145.8" r="2.35" fill="#e6e6e6" stroke="#2a2a2a" stroke-width="0.7"/>
<circle cx="149.3" cy="154.3" r="2.35" fill="#e6e6e6" stroke="#2a2a2a" stroke-width="0.7"/>
<circle cx="153.1" cy="158.8" r="2.35" fill="#e6e6e6" stroke="#2a2a2a" stroke-width="0.7"/>
<circle cx="157.4" cy="156.8" r="2.35" fill="#e6e6e6" stroke="#2a2a2a" stroke-width="0.7"/>
<circle cx="158.5" cy="158.3" r="2.35" fill="#e6e6e6" stroke="#2a2a2a" stroke-width="0.7"/>
<circle cx="150.8" cy="176.8" r="2.35" fill="#e6e6e6" stroke="#2a2a2a" stroke-width="0.7"/>
<circle cx="155.5" cy="175.3" r="2.35" fill="#e6e6e6" stroke="#2a2a2a" stroke-width="0.7"/>
<circle cx="161.6" cy="172.3" r="2.35" fill="#e6e6e6" stroke="#2a2a2a" stroke-width="0.7"/>
<circle cx="157.0" cy="177.3" r="2.35" fill="#e6e6e6" stroke="#2a2a2a" stroke-width="0.7"/>
<circle cx="193.8" cy="167.3" r="2.35" fill="#e6e6e6" stroke="#2a2a2a" stroke-width="0.7"/>
<circle cx="196.3" cy="168.8" r="2.35" fill="#e6e6e6" stroke="#2a2a2a" stroke-width="0.7"/>
<circle cx="197.7" cy="203.8" r="2.35" fill="#e6e6e6" stroke="#2a2a2a" stroke-width="0.7"/>
<circle cx="199.6" cy="205.3" r="2.35" fill="#e6e6e6" stroke="#2a2a2a" stroke-width="0.7"/>
<circle cx="200.5" cy="206.3" r="2.35" fill="#e6e6e6" stroke="#2a2a2a" stroke-width="0.7"/>
<circle cx="197.5" cy="208.60000000000002" r="2.35" fill="#e6e6e6" stroke="#2a2a2a" stroke-width="0.7"/>
<circle cx="205.5" cy="207.8" r="2.35" fill="#e6e6e6" stroke="#2a2a2a" stroke-width="0.7"/>
<circle cx="210.6" cy="205.10000000000002" r="2.35" fill="#e6e6e6" stroke="#2a2a2a" stroke-width="0.7"/>
<circle cx="156.3" cy="218.60000000000002" r="2.35" fill="#e6e6e6" stroke="#2a2a2a" stroke-width="0.7"/>
<circle cx="159.3" cy="218.3" r="2.35" fill="#e6e6e6" stroke="#2a2a2a" stroke-width="0.7"/>
<circle cx="161.4" cy="220.60000000000002" r="2.35" fill="#e6e6e6" stroke="#2a2a2a" stroke-width="0.7"/>
<circle cx="147.6" cy="232.4" r="2.35" fill="#e6e6e6" stroke="#2a2a2a" stroke-width="0.7"/>
<circle cx="146.0" cy="235.5" r="2.35" fill="#e6e6e6" stroke="#2a2a2a" stroke-width="0.7"/>
<circle cx="150.7" cy="231.4" r="2.35" fill="#e6e6e6" stroke="#2a2a2a" stroke-width="0.7"/>
<circle cx="153.5" cy="228.5" r="2.35" fill="#e6e6e6" stroke="#2a2a2a" stroke-width="0.7"/>
<circle cx="157.5" cy="228.20000000000002" r="2.35" fill="#e6e6e6" stroke="#2a2a2a" stroke-width="0.7"/>
<circle cx="155.0" cy="232.0" r="2.35" fill="#e6e6e6" stroke="#2a2a2a" stroke-width="0.7"/>
<circle cx="152.5" cy="235.0" r="2.35" fill="#e6e6e6" stroke="#2a2a2a" stroke-width="0.7"/>
<circle cx="157.5" cy="234.5" r="2.35" fill="#e6e6e6" stroke="#2a2a2a" stroke-width="0.7"/>
<circle cx="155.0" cy="238.3" r="2.35" fill="#e6e6e6" stroke="#2a2a2a" stroke-width="0.7"/>
<circle cx="160.0" cy="237.5" r="2.35" fill="#e6e6e6" stroke="#2a2a2a" stroke-width="0.7"/>
<circle cx="196.2" cy="248.3" r="2.35" fill="#e6e6e6" stroke="#2a2a2a" stroke-width="0.7"/>
<circle cx="152.6" cy="267.8" r="2.35" fill="#e6e6e6" stroke="#2a2a2a" stroke-width="0.7"/>
<circle cx="196.0" cy="271.3" r="2.35" fill="#e6e6e6" stroke="#2a2a2a" stroke-width="0.7"/>
<circle cx="157.0" cy="280.3" r="2.35" fill="#e6e6e6" stroke="#2a2a2a" stroke-width="0.7"/>
<circle cx="159.4" cy="280.8" r="2.35" fill="#e6e6e6" stroke="#2a2a2a" stroke-width="0.7"/>
<circle cx="146.7" cy="297.8" r="2.35" fill="#e6e6e6" stroke="#2a2a2a" stroke-width="0.7"/>
<circle cx="154.5" cy="297.8" r="2.35" fill="#e6e6e6" stroke="#2a2a2a" stroke-width="0.7"/>
<circle cx="199.5" cy="305.3" r="2.35" fill="#e6e6e6" stroke="#2a2a2a" stroke-width="0.7"/>
<circle cx="199.5" cy="310.8" r="2.35" fill="#e6e6e6" stroke="#2a2a2a" stroke-width="0.7"/>
<circle cx="203.0" cy="307.8" r="2.35" fill="#e6e6e6" stroke="#2a2a2a" stroke-width="0.7"/>
<circle cx="152.3" cy="327.3" r="2.35" fill="#e6e6e6" stroke="#2a2a2a" stroke-width="0.7"/>
<circle cx="159.6" cy="327.3" r="2.35" fill="#e6e6e6" stroke="#2a2a2a" stroke-width="0.7"/>
<circle cx="150.0" cy="336.8" r="2.35" fill="#e6e6e6" stroke="#2a2a2a" stroke-width="0.7"/>
<circle cx="203.2" cy="346.3" r="2.35" fill="#e6e6e6" stroke="#2a2a2a" stroke-width="0.7"/>
<circle cx="210.3" cy="346.8" r="2.35" fill="#e6e6e6" stroke="#2a2a2a" stroke-width="0.7"/>
<circle cx="200.2" cy="357.3" r="2.35" fill="#e6e6e6" stroke="#2a2a2a" stroke-width="0.7"/>
<circle cx="204.7" cy="358.3" r="2.35" fill="#e6e6e6" stroke="#2a2a2a" stroke-width="0.7"/>
<circle cx="208.0" cy="359.3" r="2.35" fill="#e6e6e6" stroke="#2a2a2a" stroke-width="0.7"/>
<circle cx="199.0" cy="362.3" r="2.35" fill="#e6e6e6" stroke="#2a2a2a" stroke-width="0.7"/>
<circle cx="203.0" cy="364.3" r="2.35" fill="#e6e6e6" stroke="#2a2a2a" stroke-width="0.7"/>
<circle cx="206.5" cy="363.8" r="2.35" fill="#e6e6e6" stroke="#2a2a2a" stroke-width="0.7"/>
<circle cx="210.0" cy="361.8" r="2.35" fill="#e6e6e6" stroke="#2a2a2a" stroke-width="0.7"/>
<circle cx="150.0" cy="374.8" r="2.35" fill="#e6e6e6" stroke="#2a2a2a" stroke-width="0.7"/>
<circle cx="158.0" cy="374.8" r="2.35" fill="#e6e6e6" stroke="#2a2a2a" stroke-width="0.7"/>
<circle cx="156.3" cy="383.0" r="2.35" fill="#e6e6e6" stroke="#2a2a2a" stroke-width="0.7"/>
<line x1="125.0" y1="39.8" x2="133.0" y2="32.0" stroke="#2f4262" stroke-width="0.5" stroke-dasharray="1.5,1"/>
<line x1="122.0" y1="47.5" x2="132.0" y2="33.0" stroke="#2f4262" stroke-width="0.5" stroke-dasharray="1.5,1"/>
<line x1="217.0" y1="30.0" x2="213.0" y2="50.0" stroke="#2f4262" stroke-width="0.5" stroke-dasharray="1.5,1"/>
<line x1="215.0" y1="56.0" x2="229.0" y2="60.0" stroke="#2f4262" stroke-width="0.5" stroke-dasharray="1.5,1"/>
<line x1="226.6" y1="83.0" x2="228.0" y2="86.0" stroke="#2f4262" stroke-width="0.5" stroke-dasharray="1.5,1"/>
<line x1="98.5" y1="88.0" x2="122.5" y2="104.8" stroke="#2f4262" stroke-width="0.5" stroke-dasharray="1.5,1"/>
<line x1="104.0" y1="80.0" x2="126.5" y2="104.8" stroke="#2f4262" stroke-width="0.5" stroke-dasharray="1.5,1"/>
<line x1="123.0" y1="117.0" x2="131.0" y2="111.0" stroke="#2f4262" stroke-width="0.5" stroke-dasharray="1.5,1"/>
<line x1="115.0" y1="123.0" x2="130.0" y2="113.0" stroke="#2f4262" stroke-width="0.5" stroke-dasharray="1.5,1"/>
<line x1="215.0" y1="118.0" x2="224.0" y2="112.7" stroke="#2f4262" stroke-width="0.5" stroke-dasharray="1.5,1"/>
<line x1="210.0" y1="126.0" x2="224.0" y2="131.0" stroke="#2f4262" stroke-width="0.5" stroke-dasharray="1.5,1"/>
<line x1="119.0" y1="138.0" x2="135.0" y2="141.0" stroke="#2f4262" stroke-width="0.5" stroke-dasharray="1.5,1"/>
<line x1="118.0" y1="155.0" x2="133.0" y2="144.0" stroke="#2f4262" stroke-width="0.5" stroke-dasharray="1.5,1"/>
<line x1="125.0" y1="180.0" x2="149.0" y2="147.0" stroke="#2f4262" stroke-width="0.5" stroke-dasharray="1.5,1"/>
<line x1="120.0" y1="207.0" x2="142.0" y2="219.0" stroke="#2f4262" stroke-width="0.5" stroke-dasharray="1.5,1"/>
<line x1="117.0" y1="235.5" x2="135.0" y2="232.0" stroke="#2f4262" stroke-width="0.5" stroke-dasharray="1.5,1"/>
<line x1="114.0" y1="243.0" x2="133.0" y2="234.0" stroke="#2f4262" stroke-width="0.5" stroke-dasharray="1.5,1"/>
<line x1="215.0" y1="310.0" x2="218.0" y2="316.0" stroke="#2f4262" stroke-width="0.5" stroke-dasharray="1.5,1"/>
<line x1="119.0" y1="345.0" x2="140.0" y2="338.0" stroke="#2f4262" stroke-width="0.5" stroke-dasharray="1.5,1"/>
<circle cx="134.4" cy="29.5" r="2.45" fill="#b9cde8" stroke="#102a4c" stroke-width="1.25"/>
<circle cx="134.4" cy="29.5" r="0.5" fill="#102a4c" opacity="0.25"/>
<circle cx="212.5" cy="53.099999999999994" r="2.45" fill="#b9cde8" stroke="#102a4c" stroke-width="1.25"/>
<circle cx="212.5" cy="53.099999999999994" r="0.5" fill="#102a4c" opacity="0.25"/>
<circle cx="209.2" cy="54.099999999999994" r="2.45" fill="#b9cde8" stroke="#102a4c" stroke-width="1.25"/>
<circle cx="209.2" cy="54.099999999999994" r="0.5" fill="#102a4c" opacity="0.25"/>
<circle cx="226.6" cy="80.2" r="2.45" fill="#b9cde8" stroke="#102a4c" stroke-width="1.25"/>
<circle cx="226.6" cy="80.2" r="0.5" fill="#102a4c" opacity="0.25"/>
<circle cx="123.0" cy="109.8" r="2.45" fill="#b9cde8" stroke="#102a4c" stroke-width="1.25"/>
<circle cx="123.0" cy="109.8" r="0.5" fill="#102a4c" opacity="0.25"/>
<circle cx="126.5" cy="109.8" r="2.45" fill="#b9cde8" stroke="#102a4c" stroke-width="1.25"/>
<circle cx="126.5" cy="109.8" r="0.5" fill="#102a4c" opacity="0.25"/>
<circle cx="135.1" cy="108.1" r="2.45" fill="#b9cde8" stroke="#102a4c" stroke-width="1.25"/>
<circle cx="135.1" cy="108.1" r="0.5" fill="#102a4c" opacity="0.25"/>
<circle cx="208.7" cy="121.8" r="2.45" fill="#b9cde8" stroke="#102a4c" stroke-width="1.25"/>
<circle cx="208.7" cy="121.8" r="0.5" fill="#102a4c" opacity="0.25"/>
<circle cx="209.6" cy="124.8" r="2.45" fill="#b9cde8" stroke="#102a4c" stroke-width="1.25"/>
<circle cx="209.6" cy="124.8" r="0.5" fill="#102a4c" opacity="0.25"/>
<circle cx="135.9" cy="142.3" r="2.45" fill="#b9cde8" stroke="#102a4c" stroke-width="1.25"/>
<circle cx="135.9" cy="142.3" r="0.5" fill="#102a4c" opacity="0.25"/>
<circle cx="149.0" cy="145.10000000000002" r="2.45" fill="#b9cde8" stroke="#102a4c" stroke-width="1.25"/>
<circle cx="149.0" cy="145.10000000000002" r="0.5" fill="#102a4c" opacity="0.25"/>
<circle cx="144.3" cy="220.60000000000002" r="2.45" fill="#b9cde8" stroke="#102a4c" stroke-width="1.25"/>
<circle cx="144.3" cy="220.60000000000002" r="0.5" fill="#102a4c" opacity="0.25"/>
<circle cx="141.5" cy="228.3" r="2.45" fill="#b9cde8" stroke="#102a4c" stroke-width="1.25"/>
<circle cx="141.5" cy="228.3" r="0.5" fill="#102a4c" opacity="0.25"/>
<circle cx="139.9" cy="231.9" r="2.45" fill="#b9cde8" stroke="#102a4c" stroke-width="1.25"/>
<circle cx="139.9" cy="231.9" r="0.5" fill="#102a4c" opacity="0.25"/>
<circle cx="214.5" cy="306.8" r="2.45" fill="#b9cde8" stroke="#102a4c" stroke-width="1.25"/>
<circle cx="214.5" cy="306.8" r="0.5" fill="#102a4c" opacity="0.25"/>
<circle cx="144.7" cy="335.8" r="2.45" fill="#b9cde8" stroke="#102a4c" stroke-width="1.25"/>
<circle cx="144.7" cy="335.8" r="0.5" fill="#102a4c" opacity="0.25"/>
<circle cx="136.8" cy="375.3" r="2.45" fill="#b9cde8" stroke="#102a4c" stroke-width="1.25"/>
<circle cx="136.8" cy="375.3" r="0.5" fill="#102a4c" opacity="0.25"/>
<text x="124.2" y="42.4" text-anchor="end" font-family='"Liberation Sans", sans-serif' font-size="6.5" fill="#2f4262">dhCer(d18:0/24:0)</text>
<text x="121.3" y="50.4" text-anchor="end" font-family='"Liberation Sans", sans-serif' font-size="6.5" fill="#2f4262">dhCer(d18:0/22:0)</text>
<text x="188.9" y="29.1" text-anchor="start" font-family='"Liberation Sans", sans-serif' font-size="6.5" fill="#2f4262">HexCer(d18:1/18:0)</text>
<text x="201.2" y="66.89999999999999" text-anchor="start" font-family='"Liberation Sans", sans-serif' font-size="6.5" fill="#2f4262">HexCer(d18:1/24:1)</text>
<text x="202.7" y="93.0" text-anchor="start" font-family='"Liberation Sans", sans-serif' font-size="6.5" fill="#2f4262">GM3(d18:1/24:1)</text>
<text x="143.9" y="79.3" text-anchor="end" font-family='"Liberation Sans", sans-serif' font-size="6.5" fill="#2f4262">SM(d18:1/22:0)/SM(d16:1/24:0)</text>
<text x="145.1" y="87.0" text-anchor="end" font-family='"Liberation Sans", sans-serif' font-size="6.5" fill="#2f4262">SM(d18:1/23:0)/SM(d17:1/24:0)</text>
<text x="121.6" y="120.0" text-anchor="end" font-family='"Liberation Sans", sans-serif' font-size="6.5" fill="#2f4262">SM(d18:0/22:0)</text>
<text x="137.0" y="131.4" text-anchor="end" font-family='"Liberation Sans", sans-serif' font-size="6.5" fill="#2f4262">SM(d18:1/24:0)</text>
<text x="225.8" y="115.3" text-anchor="start" font-family='"Liberation Sans", sans-serif' font-size="6.5" fill="#2f4262">PC(33:1)</text>
<text x="195.8" y="138.4" text-anchor="start" font-family='"Liberation Sans", sans-serif' font-size="6.5" fill="#2f4262">PC(15-MHDA_18:1)</text>
<text x="118.5" y="140.6" text-anchor="end" font-family='"Liberation Sans", sans-serif' font-size="6.5" fill="#2f4262">PC(O-32:2)</text>
<text x="117.3" y="158.0" text-anchor="end" font-family='"Liberation Sans", sans-serif' font-size="6.5" fill="#2f4262">PC(O-34:4)</text>
<text x="123.1" y="183.1" text-anchor="end" font-family='"Liberation Sans", sans-serif' font-size="6.5" fill="#2f4262">PC(O-16:0/22:6)</text>
<text x="141.9" y="205.4" text-anchor="end" font-family='"Liberation Sans", sans-serif' font-size="6.5" fill="#2f4262">PE(O-16:0/22:6)</text>
<text x="115.2" y="238.5" text-anchor="end" font-family='"Liberation Sans", sans-serif' font-size="6.5" fill="#2f4262">PE(P-15:0/22:6) (b)</text>
<text x="136.4" y="249.7" text-anchor="end" font-family='"Liberation Sans", sans-serif' font-size="6.5" fill="#2f4262">PE(P-16:0/22:6)</text>
<text x="220.4" y="319.8" text-anchor="start" font-family='"Liberation Sans", sans-serif' font-size="6.5" fill="#2f4262">CE(17:1)</text>
<text x="117.7" y="347.3" text-anchor="end" font-family='"Liberation Sans", sans-serif' font-size="6.5" fill="#2f4262">AC(13:0)</text>
<text x="146.9" y="370.40000000000003" text-anchor="end" font-family='"Liberation Sans", sans-serif' font-size="6.5" fill="#2f4262">TG(O-52:2) [NL-16:0]</text>
<text x="386.0" y="9.9" text-anchor="middle" font-family='"Liberation Sans", sans-serif' font-size="13.3" fill="#4c6c2c">Combined META</text>
<line x1="302.20000000000005" y1="390.5" x2="467.0" y2="390.5" stroke="#111" stroke-width="1"/>
<path d="M300.00000000000006,390.5 L302.20000000000005,388.3 L304.40000000000003,390.5 L302.20000000000005,392.7Z" fill="#000"/>
<text x="302.20000000000005" y="404.5" text-anchor="middle" font-family='"Liberation Sans", sans-serif' font-size="10.2" font-weight="bold" fill="#111">0.25</text>
<path d="M341.20000000000005,390.5 L343.40000000000003,388.3 L345.6,390.5 L343.40000000000003,392.7Z" fill="#000"/>
<text x="343.40000000000003" y="404.5" text-anchor="middle" font-family='"Liberation Sans", sans-serif' font-size="10.2" font-weight="bold" fill="#111">0.5</text>
<path d="M382.40000000000003,390.5 L384.6,388.3 L386.8,390.5 L384.6,392.7Z" fill="#000"/>
<text x="384.6" y="404.5" text-anchor="middle" font-family='"Liberation Sans", sans-serif' font-size="10.2" font-weight="bold" fill="#111">1</text>
<path d="M423.6000000000001,390.5 L425.80000000000007,388.3 L428.00000000000006,390.5 L425.80000000000007,392.7Z" fill="#000"/>
<text x="425.80000000000007" y="404.5" text-anchor="middle" font-family='"Liberation Sans", sans-serif' font-size="10.2" font-weight="bold" fill="#111">2</text>
<path d="M464.80000000000007,390.5 L467.00000000000006,388.3 L469.20000000000005,390.5 L467.00000000000006,392.7Z" fill="#000"/>
<text x="467.00000000000006" y="404.5" text-anchor="middle" font-family='"Liberation Sans", sans-serif' font-size="10.2" font-weight="bold" fill="#111">4</text>
<text x="384.6" y="419.4" text-anchor="middle" font-family='"Liberation Sans", sans-serif' font-size="10.3" fill="#222">Odds ratio (95% CI)</text>
<circle cx="282.6" cy="436.6" r="1.5" fill="#fff" stroke="#888" stroke-width="0.6"/>
<text x="289.0" y="438.8" font-family='"Liberation Sans", sans-serif' font-size="8.75" fill="#222">Corrected <tspan font-style="italic">p</tspan> &gt; 0.05</text>
<circle cx="378.70000000000005" cy="436.5" r="2" fill="#ccc" stroke="#444" stroke-width="0.7"/>
<text x="385.3" y="438.8" font-family='"Liberation Sans", sans-serif' font-size="8.75" fill="#222">Corrected <tspan font-style="italic">p</tspan> &lt; 0.05</text>
<line x1="356.0" y1="29.400000000000002" x2="369.5" y2="29.400000000000002" stroke="#c2c2c2" stroke-width="2.0"/>
<line x1="351.0" y1="37.8" x2="385.0" y2="37.8" stroke="#c2c2c2" stroke-width="2.0"/>
<line x1="353.0" y1="40.3" x2="383.0" y2="40.3" stroke="#c2c2c2" stroke-width="2.0"/>
<line x1="350.0" y1="42.8" x2="380.0" y2="42.8" stroke="#c2c2c2" stroke-width="2.0"/>
<line x1="352.0" y1="44.8" x2="378.0" y2="44.8" stroke="#c2c2c2" stroke-width="2.0"/>
<line x1="385.0" y1="38.3" x2="417.4" y2="38.3" stroke="#c2c2c2" stroke-width="2.0"/>
<line x1="387.0" y1="41.3" x2="412.0" y2="41.3" stroke="#c2c2c2" stroke-width="2.0"/>
<line x1="386.0" y1="44.3" x2="415.0" y2="44.3" stroke="#c2c2c2" stroke-width="2.0"/>
<line x1="387.0" y1="53.599999999999994" x2="418.6" y2="53.599999999999994" stroke="#c2c2c2" stroke-width="2.0"/>
<line x1="393.0" y1="62.8" x2="410.0" y2="62.8" stroke="#c2c2c2" stroke-width="2.0"/>
<line x1="390.0" y1="71.1" x2="418.0" y2="71.1" stroke="#c2c2c2" stroke-width="2.0"/>
<line x1="388.0" y1="80.1" x2="413.0" y2="80.1" stroke="#c2c2c2" stroke-width="2.0"/>
<line x1="390.0" y1="88.2" x2="411.0" y2="88.2" stroke="#c2c2c2" stroke-width="2.0"/>
<line x1="350.0" y1="106.3" x2="378.0" y2="106.3" stroke="#c2c2c2" stroke-width="2.0"/>
<line x1="352.0" y1="109.3" x2="380.0" y2="109.3" stroke="#c2c2c2" stroke-width="2.0"/>
<line x1="350.0" y1="111.3" x2="377.0" y2="111.3" stroke="#c2c2c2" stroke-width="2.0"/>
<line x1="391.0" y1="104.8" x2="417.5" y2="104.8" stroke="#c2c2c2" stroke-width="2.0"/>
<line x1="392.0" y1="110.6" x2="423.0" y2="110.6" stroke="#c2c2c2" stroke-width="2.0"/>
<line x1="346.5" y1="123.3" x2="384.0" y2="123.3" stroke="#c2c2c2" stroke-width="2.0"/>
<line x1="350.0" y1="126.3" x2="384.0" y2="126.3" stroke="#c2c2c2" stroke-width="2.0"/>
<line x1="345.0" y1="129.8" x2="382.0" y2="129.8" stroke="#c2c2c2" stroke-width="2.0"/>
<line x1="349.0" y1="132.8" x2="383.0" y2="132.8" stroke="#c2c2c2" stroke-width="2.0"/>
<line x1="387.0" y1="121.3" x2="420.0" y2="121.3" stroke="#c2c2c2" stroke-width="2.0"/>
<line x1="385.0" y1="124.3" x2="415.0" y2="124.3" stroke="#c2c2c2" stroke-width="2.0"/>
<line x1="395.0" y1="129.8" x2="417.0" y2="129.8" stroke="#c2c2c2" stroke-width="2.0"/>
<line x1="355.0" y1="143.3" x2="384.0" y2="143.3" stroke="#c2c2c2" stroke-width="2.0"/>
<line x1="358.0" y1="145.8" x2="380.0" y2="145.8" stroke="#c2c2c2" stroke-width="2.0"/>
<line x1="349.0" y1="157.60000000000002" x2="385.0" y2="157.60000000000002" stroke="#c2c2c2" stroke-width="2.0"/>
<line x1="352.0" y1="155.3" x2="382.0" y2="155.3" stroke="#c2c2c2" stroke-width="2.0"/>
<line x1="385.0" y1="154.3" x2="415.5" y2="154.3" stroke="#c2c2c2" stroke-width="2.0"/>
<line x1="350.0" y1="172.3" x2="384.0" y2="172.3" stroke="#c2c2c2" stroke-width="2.0"/>
<line x1="352.0" y1="175.3" x2="384.0" y2="175.3" stroke="#c2c2c2" stroke-width="2.0"/>
<line x1="348.0" y1="177.8" x2="383.0" y2="177.8" stroke="#c2c2c2" stroke-width="2.0"/>
<line x1="380.0" y1="167.8" x2="410.0" y2="167.8" stroke="#c2c2c2" stroke-width="2.0"/>
<line x1="382.0" y1="172.3" x2="408.0" y2="172.3" stroke="#c2c2c2" stroke-width="2.0"/>
<line x1="381.0" y1="176.3" x2="406.0" y2="176.3" stroke="#c2c2c2" stroke-width="2.0"/>
<line x1="380.0" y1="186.8" x2="412.5" y2="186.8" stroke="#c2c2c2" stroke-width="2.0"/>
<line x1="384.0" y1="195.8" x2="407.0" y2="195.8" stroke="#c2c2c2" stroke-width="2.0"/>
<line x1="387.0" y1="205.3" x2="426.0" y2="205.3" stroke="#c2c2c2" stroke-width="2.0"/>
<line x1="389.0" y1="208.3" x2="420.0" y2="208.3" stroke="#c2c2c2" stroke-width="2.0"/>
<line x1="388.0" y1="210.3" x2="424.0" y2="210.3" stroke="#c2c2c2" stroke-width="2.0"/>
<line x1="355.0" y1="220.8" x2="385.0" y2="220.8" stroke="#c2c2c2" stroke-width="2.0"/>
<line x1="355.0" y1="229.3" x2="398.0" y2="229.3" stroke="#c2c2c2" stroke-width="2.0"/>
<line x1="356.0" y1="231.3" x2="400.0" y2="231.3" stroke="#c2c2c2" stroke-width="2.0"/>
<line x1="355.0" y1="233.3" x2="395.0" y2="233.3" stroke="#c2c2c2" stroke-width="2.0"/>
<line x1="358.0" y1="235.3" x2="398.0" y2="235.3" stroke="#c2c2c2" stroke-width="2.0"/>
<line x1="357.0" y1="237.3" x2="396.0" y2="237.3" stroke="#c2c2c2" stroke-width="2.0"/>
<line x1="385.0" y1="237.8" x2="413.0" y2="237.8" stroke="#c2c2c2" stroke-width="2.0"/>
<line x1="388.0" y1="248.8" x2="414.0" y2="248.8" stroke="#c2c2c2" stroke-width="2.0"/>
<line x1="362.0" y1="258.2" x2="386.0" y2="258.2" stroke="#c2c2c2" stroke-width="2.0"/>
<line x1="390.0" y1="268.3" x2="415.0" y2="268.3" stroke="#c2c2c2" stroke-width="2.0"/>
<line x1="388.0" y1="271.3" x2="410.0" y2="271.3" stroke="#c2c2c2" stroke-width="2.0"/>
<line x1="362.0" y1="280.2" x2="382.0" y2="280.2" stroke="#c2c2c2" stroke-width="2.0"/>
<line x1="351.0" y1="297.90000000000003" x2="378.0" y2="297.90000000000003" stroke="#c2c2c2" stroke-width="2.0"/>
<line x1="341.8" y1="308.8" x2="369.4" y2="308.8" stroke="#c2c2c2" stroke-width="2.0"/>
<line x1="345.0" y1="310.8" x2="368.0" y2="310.8" stroke="#c2c2c2" stroke-width="2.0"/>
<line x1="388.0" y1="306.3" x2="421.0" y2="306.3" stroke="#c2c2c2" stroke-width="2.0"/>
<line x1="390.0" y1="310.3" x2="418.0" y2="310.3" stroke="#c2c2c2" stroke-width="2.0"/>
<line x1="351.0" y1="327.5" x2="378.0" y2="327.5" stroke="#c2c2c2" stroke-width="2.0"/>
<line x1="389.0" y1="327.5" x2="409.0" y2="327.5" stroke="#c2c2c2" stroke-width="2.0"/>
<line x1="360.0" y1="336.1" x2="377.0" y2="336.1" stroke="#c2c2c2" stroke-width="2.0"/>
<line x1="385.0" y1="336.5" x2="409.0" y2="336.5" stroke="#c2c2c2" stroke-width="2.0"/>
<line x1="358.0" y1="350.3" x2="380.0" y2="350.3" stroke="#c2c2c2" stroke-width="2.0"/>
<line x1="395.0" y1="347.3" x2="434.0" y2="347.3" stroke="#c2c2c2" stroke-width="2.0"/>
<line x1="392.0" y1="356.8" x2="432.0" y2="356.8" stroke="#c2c2c2" stroke-width="2.0"/>
<line x1="394.0" y1="358.3" x2="430.0" y2="358.3" stroke="#c2c2c2" stroke-width="2.0"/>
<line x1="393.0" y1="359.8" x2="434.0" y2="359.8" stroke="#c2c2c2" stroke-width="2.0"/>
<line x1="395.0" y1="361.3" x2="428.0" y2="361.3" stroke="#c2c2c2" stroke-width="2.0"/>
<line x1="392.0" y1="362.8" x2="431.0" y2="362.8" stroke="#c2c2c2" stroke-width="2.0"/>
<line x1="394.0" y1="364.3" x2="426.0" y2="364.3" stroke="#c2c2c2" stroke-width="2.0"/>
<line x1="358.0" y1="366.3" x2="380.0" y2="366.3" stroke="#c2c2c2" stroke-width="2.0"/>
<line x1="360.0" y1="375.6" x2="375.0" y2="375.6" stroke="#c2c2c2" stroke-width="2.0"/>
<line x1="357.0" y1="382.90000000000003" x2="380.0" y2="382.90000000000003" stroke="#c2c2c2" stroke-width="2.0"/>
<line x1="384.6" y1="19" x2="384.6" y2="390.5" stroke="#444" stroke-width="1.1"/>
<line x1="335.7" y1="29.400000000000002" x2="363.0" y2="29.400000000000002" stroke="#4e6c26" stroke-width="2.0" stroke-linecap="butt"/>
<line x1="405.0" y1="80.3" x2="434.3" y2="80.3" stroke="#4e6c26" stroke-width="2.0" stroke-linecap="butt"/>
<line x1="327.3" y1="108.8" x2="357.0" y2="108.8" stroke="#4e6c26" stroke-width="2.0" stroke-linecap="butt"/>
<line x1="341.7" y1="144.70000000000002" x2="362.0" y2="144.70000000000002" stroke="#4e6c26" stroke-width="2.0" stroke-linecap="butt"/>
<line x1="338.5" y1="221.3" x2="356.0" y2="221.3" stroke="#4e6c26" stroke-width="2.0" stroke-linecap="butt"/>
<line x1="340.2" y1="229.3" x2="362.0" y2="229.3" stroke="#4e6c26" stroke-width="2.0" stroke-linecap="butt"/>
<line x1="336.2" y1="231.5" x2="362.0" y2="231.5" stroke="#4e6c26" stroke-width="2.0" stroke-linecap="butt"/>
<line x1="345.0" y1="234.8" x2="362.0" y2="234.8" stroke="#4e6c26" stroke-width="2.0" stroke-linecap="butt"/>
<line x1="345.0" y1="237.0" x2="362.0" y2="237.0" stroke="#4e6c26" stroke-width="2.0" stroke-linecap="butt"/>
<line x1="346.1" y1="335.90000000000003" x2="364.6" y2="335.90000000000003" stroke="#4e6c26" stroke-width="2.0" stroke-linecap="butt"/>
<line x1="330.8" y1="375.3" x2="366.2" y2="375.3" stroke="#4e6c26" stroke-width="2.0" stroke-linecap="butt"/>
<circle cx="375.0" cy="28.900000000000002" r="1.8" fill="#fff" stroke="#888" stroke-width="0.55"/>
<circle cx="377.0" cy="28.5" r="1.8" fill="#fff" stroke="#888" stroke-width="0.55"/>
<circle cx="385.5" cy="28.8" r="1.8" fill="#fff" stroke="#888" stroke-width="0.55"/>
<circle cx="374.0" cy="38.3" r="1.8" fill="#fff" stroke="#888" stroke-width="0.55"/>
<circle cx="376.0" cy="41.3" r="1.8" fill="#fff" stroke="#888" stroke-width="0.55"/>
<circle cx="378.0" cy="43.3" r="1.8" fill="#fff" stroke="#888" stroke-width="0.55"/>
<circle cx="380.0" cy="37.3" r="1.8" fill="#fff" stroke="#888" stroke-width="0.55"/>
<circle cx="382.0" cy="40.3" r="1.8" fill="#fff" stroke="#888" stroke-width="0.55"/>
<circle cx="383.0" cy="44.3" r="1.8" fill="#fff" stroke="#888" stroke-width="0.55"/>
<circle cx="387.0" cy="38.3" r="1.8" fill="#fff" stroke="#888" stroke-width="0.55"/>
<circle cx="389.0" cy="41.3" r="1.8" fill="#fff" stroke="#888" stroke-width="0.55"/>
<circle cx="391.0" cy="43.8" r="1.8" fill="#fff" stroke="#888" stroke-width="0.55"/>
<circle cx="393.0" cy="39.3" r="1.8" fill="#fff" stroke="#888" stroke-width="0.55"/>
<circle cx="395.0" cy="44.3" r="1.8" fill="#fff" stroke="#888" stroke-width="0.55"/>
<circle cx="378.8" cy="53.8" r="1.8" fill="#fff" stroke="#888" stroke-width="0.55"/>
<circle cx="391.0" cy="53.599999999999994" r="1.8" fill="#fff" stroke="#888" stroke-width="0.55"/>
<circle cx="381.5" cy="62.699999999999996" r="1.8" fill="#fff" stroke="#888" stroke-width="0.55"/>
<circle cx="387.0" cy="62.3" r="1.8" fill="#fff" stroke="#888" stroke-width="0.55"/>
<circle cx="392.0" cy="80.3" r="1.8" fill="#fff" stroke="#888" stroke-width="0.55"/>
<circle cx="375.0" cy="96.39999999999999" r="1.8" fill="#fff" stroke="#888" stroke-width="0.55"/>
<circle cx="377.5" cy="96.39999999999999" r="1.8" fill="#fff" stroke="#888" stroke-width="0.55"/>
<circle cx="380.0" cy="96.39999999999999" r="1.8" fill="#fff" stroke="#888" stroke-width="0.55"/>
<circle cx="388.0" cy="96.7" r="1.8" fill="#fff" stroke="#888" stroke-width="0.55"/>
<circle cx="394.5" cy="96.0" r="1.8" fill="#fff" stroke="#888" stroke-width="0.55"/>
<circle cx="372.0" cy="105.3" r="1.8" fill="#fff" stroke="#888" stroke-width="0.55"/>
<circle cx="375.0" cy="108.3" r="1.8" fill="#fff" stroke="#888" stroke-width="0.55"/>
<circle cx="378.0" cy="110.3" r="1.8" fill="#fff" stroke="#888" stroke-width="0.55"/>
<circle cx="381.0" cy="106.3" r="1.8" fill="#fff" stroke="#888" stroke-width="0.55"/>
<circle cx="383.0" cy="109.3" r="1.8" fill="#fff" stroke="#888" stroke-width="0.55"/>
<circle cx="386.0" cy="105.3" r="1.8" fill="#fff" stroke="#888" stroke-width="0.55"/>
<circle cx="390.0" cy="107.3" r="1.8" fill="#fff" stroke="#888" stroke-width="0.55"/>
<circle cx="392.0" cy="110.3" r="1.8" fill="#fff" stroke="#888" stroke-width="0.55"/>
<circle cx="394.0" cy="105.3" r="1.8" fill="#fff" stroke="#888" stroke-width="0.55"/>
<circle cx="396.0" cy="108.3" r="1.8" fill="#fff" stroke="#888" stroke-width="0.55"/>
<circle cx="378.0" cy="127.3" r="1.8" fill="#fff" stroke="#888" stroke-width="0.55"/>
<circle cx="374.0" cy="131.3" r="1.8" fill="#fff" stroke="#888" stroke-width="0.55"/>
<circle cx="387.0" cy="119.3" r="1.8" fill="#fff" stroke="#888" stroke-width="0.55"/>
<circle cx="388.0" cy="128.3" r="1.8" fill="#fff" stroke="#888" stroke-width="0.55"/>
<circle cx="394.0" cy="127.3" r="1.8" fill="#fff" stroke="#888" stroke-width="0.55"/>
<circle cx="374.0" cy="142.3" r="1.8" fill="#fff" stroke="#888" stroke-width="0.55"/>
<circle cx="383.0" cy="142.3" r="1.8" fill="#fff" stroke="#888" stroke-width="0.55"/>
<circle cx="391.0" cy="144.3" r="1.8" fill="#fff" stroke="#888" stroke-width="0.55"/>
<circle cx="376.0" cy="155.3" r="1.8" fill="#fff" stroke="#888" stroke-width="0.55"/>
<circle cx="383.0" cy="157.3" r="1.8" fill="#fff" stroke="#888" stroke-width="0.55"/>
<circle cx="393.5" cy="154.3" r="1.8" fill="#fff" stroke="#888" stroke-width="0.55"/>
<circle cx="376.0" cy="169.3" r="1.8" fill="#fff" stroke="#888" stroke-width="0.55"/>
<circle cx="382.0" cy="168.3" r="1.8" fill="#fff" stroke="#888" stroke-width="0.55"/>
<circle cx="388.0" cy="166.3" r="1.8" fill="#fff" stroke="#888" stroke-width="0.55"/>
<circle cx="392.0" cy="173.3" r="1.8" fill="#fff" stroke="#888" stroke-width="0.55"/>
<circle cx="382.5" cy="186.3" r="1.8" fill="#fff" stroke="#888" stroke-width="0.55"/>
<circle cx="388.0" cy="186.3" r="1.8" fill="#fff" stroke="#888" stroke-width="0.55"/>
<circle cx="392.0" cy="186.8" r="1.8" fill="#fff" stroke="#888" stroke-width="0.55"/>
<circle cx="386.5" cy="195.8" r="1.8" fill="#fff" stroke="#888" stroke-width="0.55"/>
<circle cx="375.0" cy="206.3" r="1.8" fill="#fff" stroke="#888" stroke-width="0.55"/>
<circle cx="383.0" cy="205.3" r="1.8" fill="#fff" stroke="#888" stroke-width="0.55"/>
<circle cx="392.0" cy="204.3" r="1.8" fill="#fff" stroke="#888" stroke-width="0.55"/>
<circle cx="379.0" cy="221.3" r="1.8" fill="#fff" stroke="#888" stroke-width="0.55"/>
<circle cx="378.0" cy="231.3" r="1.8" fill="#fff" stroke="#888" stroke-width="0.55"/>
<circle cx="384.0" cy="230.3" r="1.8" fill="#fff" stroke="#888" stroke-width="0.55"/>
<circle cx="390.0" cy="231.3" r="1.8" fill="#fff" stroke="#888" stroke-width="0.55"/>
<circle cx="377.0" cy="239.3" r="1.8" fill="#fff" stroke="#888" stroke-width="0.55"/>
<circle cx="381.0" cy="249.8" r="1.8" fill="#fff" stroke="#888" stroke-width="0.55"/>
<circle cx="385.0" cy="248.8" r="1.8" fill="#fff" stroke="#888" stroke-width="0.55"/>
<circle cx="389.0" cy="249.3" r="1.8" fill="#fff" stroke="#888" stroke-width="0.55"/>
<circle cx="392.0" cy="248.3" r="1.8" fill="#fff" stroke="#888" stroke-width="0.55"/>
<circle cx="378.0" cy="258.3" r="1.8" fill="#fff" stroke="#888" stroke-width="0.55"/>
<circle cx="383.5" cy="258.3" r="1.8" fill="#fff" stroke="#888" stroke-width="0.55"/>
<circle cx="376.0" cy="267.3" r="1.8" fill="#fff" stroke="#888" stroke-width="0.55"/>
<circle cx="377.0" cy="271.3" r="1.8" fill="#fff" stroke="#888" stroke-width="0.55"/>
<circle cx="382.0" cy="267.3" r="1.8" fill="#fff" stroke="#888" stroke-width="0.55"/>
<circle cx="383.0" cy="268.3" r="1.8" fill="#fff" stroke="#888" stroke-width="0.55"/>
<circle cx="389.0" cy="267.3" r="1.8" fill="#fff" stroke="#888" stroke-width="0.55"/>
<circle cx="392.0" cy="267.8" r="1.8" fill="#fff" stroke="#888" stroke-width="0.55"/>
<circle cx="394.0" cy="268.3" r="1.8" fill="#fff" stroke="#888" stroke-width="0.55"/>
<circle cx="378.0" cy="279.3" r="1.8" fill="#fff" stroke="#888" stroke-width="0.55"/>
<circle cx="371.5" cy="289.3" r="1.8" fill="#fff" stroke="#888" stroke-width="0.55"/>
<circle cx="374.0" cy="289.3" r="1.8" fill="#fff" stroke="#888" stroke-width="0.55"/>
<circle cx="376.0" cy="289.3" r="1.8" fill="#fff" stroke="#888" stroke-width="0.55"/>
<circle cx="386.5" cy="289.3" r="1.8" fill="#fff" stroke="#888" stroke-width="0.55"/>
<circle cx="395.5" cy="289.3" r="1.8" fill="#fff" stroke="#888" stroke-width="0.55"/>
<circle cx="383.5" cy="297.8" r="1.8" fill="#fff" stroke="#888" stroke-width="0.55"/>
<circle cx="388.0" cy="297.3" r="1.8" fill="#fff" stroke="#888" stroke-width="0.55"/>
<circle cx="372.0" cy="307.3" r="1.8" fill="#fff" stroke="#888" stroke-width="0.55"/>
<circle cx="375.0" cy="309.3" r="1.8" fill="#fff" stroke="#888" stroke-width="0.55"/>
<circle cx="378.0" cy="311.3" r="1.8" fill="#fff" stroke="#888" stroke-width="0.55"/>
<circle cx="380.0" cy="306.3" r="1.8" fill="#fff" stroke="#888" stroke-width="0.55"/>
<circle cx="383.0" cy="310.3" r="1.8" fill="#fff" stroke="#888" stroke-width="0.55"/>
<circle cx="385.0" cy="307.3" r="1.8" fill="#fff" stroke="#888" stroke-width="0.55"/>
<circle cx="387.0" cy="311.3" r="1.8" fill="#fff" stroke="#888" stroke-width="0.55"/>
<circle cx="390.0" cy="308.3" r="1.8" fill="#fff" stroke="#888" stroke-width="0.55"/>
<circle cx="393.0" cy="306.3" r="1.8" fill="#fff" stroke="#888" stroke-width="0.55"/>
<circle cx="381.0" cy="319.0" r="1.8" fill="#fff" stroke="#888" stroke-width="0.55"/>
<circle cx="385.0" cy="327.5" r="1.8" fill="#fff" stroke="#888" stroke-width="0.55"/>
<circle cx="377.5" cy="346.3" r="1.8" fill="#fff" stroke="#888" stroke-width="0.55"/>
<circle cx="380.5" cy="346.3" r="1.8" fill="#fff" stroke="#888" stroke-width="0.55"/>
<circle cx="381.0" cy="349.3" r="1.8" fill="#fff" stroke="#888" stroke-width="0.55"/>
<circle cx="388.5" cy="348.8" r="1.8" fill="#fff" stroke="#888" stroke-width="0.55"/>
<circle cx="392.0" cy="347.3" r="1.8" fill="#fff" stroke="#888" stroke-width="0.55"/>
<circle cx="394.5" cy="348.8" r="1.8" fill="#fff" stroke="#888" stroke-width="0.55"/>
<circle cx="399.0" cy="348.3" r="1.8" fill="#fff" stroke="#888" stroke-width="0.55"/>
<circle cx="377.0" cy="359.3" r="1.8" fill="#fff" stroke="#888" stroke-width="0.55"/>
<circle cx="383.0" cy="357.3" r="1.8" fill="#fff" stroke="#888" stroke-width="0.55"/>
<circle cx="389.0" cy="356.3" r="1.8" fill="#fff" stroke="#888" stroke-width="0.55"/>
<circle cx="395.0" cy="365.3" r="1.8" fill="#fff" stroke="#888" stroke-width="0.55"/>
<circle cx="398.0" cy="357.3" r="1.8" fill="#fff" stroke="#888" stroke-width="0.55"/>
<circle cx="400.0" cy="361.3" r="1.8" fill="#fff" stroke="#888" stroke-width="0.55"/>
<circle cx="356.0" cy="37.8" r="2.1" fill="#d8d8d8" stroke="#999" stroke-width="0.6"/>
<circle cx="358.0" cy="41.3" r="2.1" fill="#d8d8d8" stroke="#999" stroke-width="0.6"/>
<circle cx="394.0" cy="62.8" r="2.1" fill="#d8d8d8" stroke="#999" stroke-width="0.6"/>
<circle cx="394.7" cy="70.89999999999999" r="2.1" fill="#d8d8d8" stroke="#999" stroke-width="0.6"/>
<circle cx="396.0" cy="80.1" r="2.1" fill="#d8d8d8" stroke="#999" stroke-width="0.6"/>
<circle cx="373.0" cy="121.3" r="2.1" fill="#d8d8d8" stroke="#999" stroke-width="0.6"/>
<circle cx="376.0" cy="124.3" r="2.1" fill="#d8d8d8" stroke="#999" stroke-width="0.6"/>
<circle cx="380.0" cy="130.3" r="2.1" fill="#d8d8d8" stroke="#999" stroke-width="0.6"/>
<circle cx="382.0" cy="122.3" r="2.1" fill="#d8d8d8" stroke="#999" stroke-width="0.6"/>
<circle cx="377.0" cy="134.3" r="2.1" fill="#d8d8d8" stroke="#999" stroke-width="0.6"/>
<circle cx="383.0" cy="133.3" r="2.1" fill="#d8d8d8" stroke="#999" stroke-width="0.6"/>
<circle cx="389.0" cy="122.3" r="2.1" fill="#d8d8d8" stroke="#999" stroke-width="0.6"/>
<circle cx="390.0" cy="125.3" r="2.1" fill="#d8d8d8" stroke="#999" stroke-width="0.6"/>
<circle cx="391.0" cy="131.3" r="2.1" fill="#d8d8d8" stroke="#999" stroke-width="0.6"/>
<circle cx="393.0" cy="120.3" r="2.1" fill="#d8d8d8" stroke="#999" stroke-width="0.6"/>
<circle cx="390.0" cy="133.3" r="2.1" fill="#d8d8d8" stroke="#999" stroke-width="0.6"/>
<circle cx="394.5" cy="133.8" r="2.1" fill="#d8d8d8" stroke="#999" stroke-width="0.6"/>
<circle cx="392.0" cy="124.3" r="2.1" fill="#d8d8d8" stroke="#999" stroke-width="0.6"/>
<circle cx="395.0" cy="122.3" r="2.1" fill="#d8d8d8" stroke="#999" stroke-width="0.6"/>
<circle cx="377.0" cy="144.3" r="2.1" fill="#d8d8d8" stroke="#999" stroke-width="0.6"/>
<circle cx="380.0" cy="142.3" r="2.1" fill="#d8d8d8" stroke="#999" stroke-width="0.6"/>
<circle cx="386.0" cy="141.3" r="2.1" fill="#d8d8d8" stroke="#999" stroke-width="0.6"/>
<circle cx="388.0" cy="142.3" r="2.1" fill="#d8d8d8" stroke="#999" stroke-width="0.6"/>
<circle cx="392.0" cy="141.3" r="2.1" fill="#d8d8d8" stroke="#999" stroke-width="0.6"/>
<circle cx="393.0" cy="146.3" r="2.1" fill="#d8d8d8" stroke="#999" stroke-width="0.6"/>
<circle cx="378.0" cy="157.3" r="2.1" fill="#d8d8d8" stroke="#999" stroke-width="0.6"/>
<circle cx="381.0" cy="154.3" r="2.1" fill="#d8d8d8" stroke="#999" stroke-width="0.6"/>
<circle cx="387.0" cy="154.3" r="2.1" fill="#d8d8d8" stroke="#999" stroke-width="0.6"/>
<circle cx="391.0" cy="154.3" r="2.1" fill="#d8d8d8" stroke="#999" stroke-width="0.6"/>
<circle cx="395.5" cy="154.3" r="2.1" fill="#d8d8d8" stroke="#999" stroke-width="0.6"/>
<circle cx="374.0" cy="166.3" r="2.1" fill="#d8d8d8" stroke="#999" stroke-width="0.6"/>
<circle cx="378.0" cy="172.3" r="2.1" fill="#d8d8d8" stroke="#999" stroke-width="0.6"/>
<circle cx="380.0" cy="175.3" r="2.1" fill="#d8d8d8" stroke="#999" stroke-width="0.6"/>
<circle cx="384.0" cy="171.3" r="2.1" fill="#d8d8d8" stroke="#999" stroke-width="0.6"/>
<circle cx="386.0" cy="174.3" r="2.1" fill="#d8d8d8" stroke="#999" stroke-width="0.6"/>
<circle cx="389.0" cy="170.3" r="2.1" fill="#d8d8d8" stroke="#999" stroke-width="0.6"/>
<circle cx="390.0" cy="177.3" r="2.1" fill="#d8d8d8" stroke="#999" stroke-width="0.6"/>
<circle cx="375.0" cy="176.3" r="2.1" fill="#d8d8d8" stroke="#999" stroke-width="0.6"/>
<circle cx="386.0" cy="170.3" r="2.1" fill="#d8d8d8" stroke="#999" stroke-width="0.6"/>
<circle cx="383.0" cy="168.3" r="2.1" fill="#d8d8d8" stroke="#999" stroke-width="0.6"/>
<circle cx="372.0" cy="204.3" r="2.1" fill="#d8d8d8" stroke="#999" stroke-width="0.6"/>
<circle cx="378.0" cy="208.3" r="2.1" fill="#d8d8d8" stroke="#999" stroke-width="0.6"/>
<circle cx="381.0" cy="210.3" r="2.1" fill="#d8d8d8" stroke="#999" stroke-width="0.6"/>
<circle cx="386.0" cy="209.3" r="2.1" fill="#d8d8d8" stroke="#999" stroke-width="0.6"/>
<circle cx="390.0" cy="207.3" r="2.1" fill="#d8d8d8" stroke="#999" stroke-width="0.6"/>
<circle cx="393.0" cy="210.3" r="2.1" fill="#d8d8d8" stroke="#999" stroke-width="0.6"/>
<circle cx="376.0" cy="219.3" r="2.1" fill="#d8d8d8" stroke="#999" stroke-width="0.6"/>
<circle cx="386.5" cy="220.3" r="2.1" fill="#d8d8d8" stroke="#999" stroke-width="0.6"/>
<circle cx="375.0" cy="229.3" r="2.1" fill="#d8d8d8" stroke="#999" stroke-width="0.6"/>
<circle cx="380.0" cy="234.3" r="2.1" fill="#d8d8d8" stroke="#999" stroke-width="0.6"/>
<circle cx="382.0" cy="237.3" r="2.1" fill="#d8d8d8" stroke="#999" stroke-width="0.6"/>
<circle cx="386.0" cy="233.3" r="2.1" fill="#d8d8d8" stroke="#999" stroke-width="0.6"/>
<circle cx="388.0" cy="236.3" r="2.1" fill="#d8d8d8" stroke="#999" stroke-width="0.6"/>
<circle cx="392.0" cy="229.3" r="2.1" fill="#d8d8d8" stroke="#999" stroke-width="0.6"/>
<circle cx="394.0" cy="234.3" r="2.1" fill="#d8d8d8" stroke="#999" stroke-width="0.6"/>
<circle cx="385.0" cy="239.3" r="2.1" fill="#d8d8d8" stroke="#999" stroke-width="0.6"/>
<circle cx="375.0" cy="297.90000000000003" r="2.1" fill="#d8d8d8" stroke="#999" stroke-width="0.6"/>
<circle cx="380.0" cy="327.5" r="2.1" fill="#d8d8d8" stroke="#999" stroke-width="0.6"/>
<circle cx="385.0" cy="336.3" r="2.1" fill="#d8d8d8" stroke="#999" stroke-width="0.6"/>
<circle cx="390.0" cy="336.3" r="2.1" fill="#d8d8d8" stroke="#999" stroke-width="0.6"/>
<circle cx="392.0" cy="336.8" r="2.1" fill="#d8d8d8" stroke="#999" stroke-width="0.6"/>
<circle cx="375.0" cy="356.3" r="2.1" fill="#d8d8d8" stroke="#999" stroke-width="0.6"/>
<circle cx="379.0" cy="362.3" r="2.1" fill="#d8d8d8" stroke="#999" stroke-width="0.6"/>
<circle cx="381.0" cy="365.3" r="2.1" fill="#d8d8d8" stroke="#999" stroke-width="0.6"/>
<circle cx="385.0" cy="360.3" r="2.1" fill="#d8d8d8" stroke="#999" stroke-width="0.6"/>
<circle cx="387.0" cy="363.3" r="2.1" fill="#d8d8d8" stroke="#999" stroke-width="0.6"/>
<circle cx="391.0" cy="359.3" r="2.1" fill="#d8d8d8" stroke="#999" stroke-width="0.6"/>
<circle cx="393.0" cy="362.3" r="2.1" fill="#d8d8d8" stroke="#999" stroke-width="0.6"/>
<circle cx="376.0" cy="360.3" r="2.1" fill="#d8d8d8" stroke="#999" stroke-width="0.6"/>
<circle cx="356.1" cy="29.400000000000002" r="2.35" fill="#e6e6e6" stroke="#2a2a2a" stroke-width="0.7"/>
<circle cx="366.5" cy="37.8" r="2.35" fill="#e6e6e6" stroke="#2a2a2a" stroke-width="0.7"/>
<circle cx="368.5" cy="40.3" r="2.35" fill="#e6e6e6" stroke="#2a2a2a" stroke-width="0.7"/>
<circle cx="370.0" cy="42.8" r="2.35" fill="#e6e6e6" stroke="#2a2a2a" stroke-width="0.7"/>
<circle cx="362.0" cy="44.8" r="2.35" fill="#e6e6e6" stroke="#2a2a2a" stroke-width="0.7"/>
<circle cx="397.5" cy="39.8" r="2.35" fill="#e6e6e6" stroke="#2a2a2a" stroke-width="0.7"/>
<circle cx="402.0" cy="40.3" r="2.35" fill="#e6e6e6" stroke="#2a2a2a" stroke-width="0.7"/>
<circle cx="405.5" cy="40.8" r="2.35" fill="#e6e6e6" stroke="#2a2a2a" stroke-width="0.7"/>
<circle cx="398.0" cy="43.8" r="2.35" fill="#e6e6e6" stroke="#2a2a2a" stroke-width="0.7"/>
<circle cx="401.0" cy="44.8" r="2.35" fill="#e6e6e6" stroke="#2a2a2a" stroke-width="0.7"/>
<circle cx="398.0" cy="53.5" r="2.35" fill="#e6e6e6" stroke="#2a2a2a" stroke-width="0.7"/>
<circle cx="407.0" cy="53.199999999999996" r="2.35" fill="#e6e6e6" stroke="#2a2a2a" stroke-width="0.7"/>
<circle cx="398.7" cy="62.8" r="2.35" fill="#e6e6e6" stroke="#2a2a2a" stroke-width="0.7"/>
<circle cx="403.5" cy="71.3" r="2.35" fill="#e6e6e6" stroke="#2a2a2a" stroke-width="0.7"/>
<circle cx="406.5" cy="70.5" r="2.35" fill="#e6e6e6" stroke="#2a2a2a" stroke-width="0.7"/>
<circle cx="401.2" cy="79.89999999999999" r="2.35" fill="#e6e6e6" stroke="#2a2a2a" stroke-width="0.7"/>
<circle cx="406.6" cy="79.89999999999999" r="2.35" fill="#e6e6e6" stroke="#2a2a2a" stroke-width="0.7"/>
<circle cx="400.3" cy="88.2" r="2.35" fill="#e6e6e6" stroke="#2a2a2a" stroke-width="0.7"/>
<circle cx="361.5" cy="106.3" r="2.35" fill="#e6e6e6" stroke="#2a2a2a" stroke-width="0.7"/>
<circle cx="364.0" cy="107.8" r="2.35" fill="#e6e6e6" stroke="#2a2a2a" stroke-width="0.7"/>
<circle cx="367.0" cy="107.3" r="2.35" fill="#e6e6e6" stroke="#2a2a2a" stroke-width="0.7"/>
<circle cx="368.5" cy="110.5" r="2.35" fill="#e6e6e6" stroke="#2a2a2a" stroke-width="0.7"/>
<circle cx="363.0" cy="111.6" r="2.35" fill="#e6e6e6" stroke="#2a2a2a" stroke-width="0.7"/>
<circle cx="403.8" cy="104.8" r="2.35" fill="#e6e6e6" stroke="#2a2a2a" stroke-width="0.7"/>
<circle cx="401.9" cy="110.6" r="2.35" fill="#e6e6e6" stroke="#2a2a2a" stroke-width="0.7"/>
<circle cx="410.7" cy="110.6" r="2.35" fill="#e6e6e6" stroke="#2a2a2a" stroke-width="0.7"/>
<circle cx="369.5" cy="123.3" r="2.35" fill="#e6e6e6" stroke="#2a2a2a" stroke-width="0.7"/>
<circle cx="367.0" cy="127.3" r="2.35" fill="#e6e6e6" stroke="#2a2a2a" stroke-width="0.7"/>
<circle cx="365.5" cy="129.8" r="2.35" fill="#e6e6e6" stroke="#2a2a2a" stroke-width="0.7"/>
<circle cx="361.5" cy="130.8" r="2.35" fill="#e6e6e6" stroke="#2a2a2a" stroke-width="0.7"/>
<circle cx="357.5" cy="130.5" r="2.35" fill="#e6e6e6" stroke="#2a2a2a" stroke-width="0.7"/>
<circle cx="362.5" cy="133.3" r="2.35" fill="#e6e6e6" stroke="#2a2a2a" stroke-width="0.7"/>
<circle cx="365.0" cy="134.8" r="2.35" fill="#e6e6e6" stroke="#2a2a2a" stroke-width="0.7"/>
<circle cx="370.0" cy="132.3" r="2.35" fill="#e6e6e6" stroke="#2a2a2a" stroke-width="0.7"/>
<circle cx="397.5" cy="120.3" r="2.35" fill="#e6e6e6" stroke="#2a2a2a" stroke-width="0.7"/>
<circle cx="400.0" cy="121.3" r="2.35" fill="#e6e6e6" stroke="#2a2a2a" stroke-width="0.7"/>
<circle cx="402.0" cy="122.8" r="2.35" fill="#e6e6e6" stroke="#2a2a2a" stroke-width="0.7"/>
<circle cx="403.5" cy="124.8" r="2.35" fill="#e6e6e6" stroke="#2a2a2a" stroke-width="0.7"/>
<circle cx="406.0" cy="124.3" r="2.35" fill="#e6e6e6" stroke="#2a2a2a" stroke-width="0.7"/>
<circle cx="408.5" cy="121.8" r="2.35" fill="#e6e6e6" stroke="#2a2a2a" stroke-width="0.7"/>
<circle cx="401.0" cy="124.3" r="2.35" fill="#e6e6e6" stroke="#2a2a2a" stroke-width="0.7"/>
<circle cx="405.2" cy="129.8" r="2.35" fill="#e6e6e6" stroke="#2a2a2a" stroke-width="0.7"/>
<circle cx="366.0" cy="141.8" r="2.35" fill="#e6e6e6" stroke="#2a2a2a" stroke-width="0.7"/>
<circle cx="365.0" cy="143.8" r="2.35" fill="#e6e6e6" stroke="#2a2a2a" stroke-width="0.7"/>
<circle cx="369.5" cy="145.8" r="2.35" fill="#e6e6e6" stroke="#2a2a2a" stroke-width="0.7"/>
<circle cx="363.0" cy="146.3" r="2.35" fill="#e6e6e6" stroke="#2a2a2a" stroke-width="0.7"/>
<circle cx="359.0" cy="157.8" r="2.35" fill="#e6e6e6" stroke="#2a2a2a" stroke-width="0.7"/>
<circle cx="363.5" cy="157.8" r="2.35" fill="#e6e6e6" stroke="#2a2a2a" stroke-width="0.7"/>
<circle cx="368.5" cy="158.3" r="2.35" fill="#e6e6e6" stroke="#2a2a2a" stroke-width="0.7"/>
<circle cx="370.0" cy="155.3" r="2.35" fill="#e6e6e6" stroke="#2a2a2a" stroke-width="0.7"/>
<circle cx="372.0" cy="153.8" r="2.35" fill="#e6e6e6" stroke="#2a2a2a" stroke-width="0.7"/>
<circle cx="401.5" cy="154.3" r="2.35" fill="#e6e6e6" stroke="#2a2a2a" stroke-width="0.7"/>
<circle cx="362.0" cy="174.8" r="2.35" fill="#e6e6e6" stroke="#2a2a2a" stroke-width="0.7"/>
<circle cx="363.5" cy="177.8" r="2.35" fill="#e6e6e6" stroke="#2a2a2a" stroke-width="0.7"/>
<circle cx="366.5" cy="173.8" r="2.35" fill="#e6e6e6" stroke="#2a2a2a" stroke-width="0.7"/>
<circle cx="368.0" cy="177.8" r="2.35" fill="#e6e6e6" stroke="#2a2a2a" stroke-width="0.7"/>
<circle cx="371.0" cy="176.8" r="2.35" fill="#e6e6e6" stroke="#2a2a2a" stroke-width="0.7"/>
<circle cx="365.0" cy="177.3" r="2.35" fill="#e6e6e6" stroke="#2a2a2a" stroke-width="0.7"/>
<circle cx="396.0" cy="167.8" r="2.35" fill="#e6e6e6" stroke="#2a2a2a" stroke-width="0.7"/>
<circle cx="400.0" cy="167.3" r="2.35" fill="#e6e6e6" stroke="#2a2a2a" stroke-width="0.7"/>
<circle cx="398.5" cy="175.8" r="2.35" fill="#e6e6e6" stroke="#2a2a2a" stroke-width="0.7"/>
<circle cx="398.0" cy="187.3" r="2.35" fill="#e6e6e6" stroke="#2a2a2a" stroke-width="0.7"/>
<circle cx="402.0" cy="186.8" r="2.35" fill="#e6e6e6" stroke="#2a2a2a" stroke-width="0.7"/>
<circle cx="397.5" cy="195.8" r="2.35" fill="#e6e6e6" stroke="#2a2a2a" stroke-width="0.7"/>
<circle cx="399.0" cy="203.3" r="2.35" fill="#e6e6e6" stroke="#2a2a2a" stroke-width="0.7"/>
<circle cx="401.5" cy="206.3" r="2.35" fill="#e6e6e6" stroke="#2a2a2a" stroke-width="0.7"/>
<circle cx="404.5" cy="203.8" r="2.35" fill="#e6e6e6" stroke="#2a2a2a" stroke-width="0.7"/>
<circle cx="407.0" cy="205.3" r="2.35" fill="#e6e6e6" stroke="#2a2a2a" stroke-width="0.7"/>
<circle cx="410.0" cy="204.3" r="2.35" fill="#e6e6e6" stroke="#2a2a2a" stroke-width="0.7"/>
<circle cx="413.0" cy="206.3" r="2.35" fill="#e6e6e6" stroke="#2a2a2a" stroke-width="0.7"/>
<circle cx="404.0" cy="209.8" r="2.35" fill="#e6e6e6" stroke="#2a2a2a" stroke-width="0.7"/>
<circle cx="407.0" cy="210.3" r="2.35" fill="#e6e6e6" stroke="#2a2a2a" stroke-width="0.7"/>
<circle cx="398.0" cy="208.3" r="2.35" fill="#e6e6e6" stroke="#2a2a2a" stroke-width="0.7"/>
<circle cx="358.5" cy="220.3" r="2.35" fill="#e6e6e6" stroke="#2a2a2a" stroke-width="0.7"/>
<circle cx="363.5" cy="219.8" r="2.35" fill="#e6e6e6" stroke="#2a2a2a" stroke-width="0.7"/>
<circle cx="367.0" cy="220.3" r="2.35" fill="#e6e6e6" stroke="#2a2a2a" stroke-width="0.7"/>
<circle cx="371.0" cy="220.3" r="2.35" fill="#e6e6e6" stroke="#2a2a2a" stroke-width="0.7"/>
<circle cx="360.0" cy="221.8" r="2.35" fill="#e6e6e6" stroke="#2a2a2a" stroke-width="0.7"/>
<circle cx="367.5" cy="221.8" r="2.35" fill="#e6e6e6" stroke="#2a2a2a" stroke-width="0.7"/>
<circle cx="361.0" cy="228.9" r="2.35" fill="#e6e6e6" stroke="#2a2a2a" stroke-width="0.7"/>
<circle cx="361.4" cy="231.10000000000002" r="2.35" fill="#e6e6e6" stroke="#2a2a2a" stroke-width="0.7"/>
<circle cx="367.2" cy="228.9" r="2.35" fill="#e6e6e6" stroke="#2a2a2a" stroke-width="0.7"/>
<circle cx="368.0" cy="231.5" r="2.35" fill="#e6e6e6" stroke="#2a2a2a" stroke-width="0.7"/>
<circle cx="372.0" cy="231.9" r="2.35" fill="#e6e6e6" stroke="#2a2a2a" stroke-width="0.7"/>
<circle cx="363.2" cy="237.0" r="2.35" fill="#e6e6e6" stroke="#2a2a2a" stroke-width="0.7"/>
<circle cx="366.5" cy="238.4" r="2.35" fill="#e6e6e6" stroke="#2a2a2a" stroke-width="0.7"/>
<circle cx="369.8" cy="236.20000000000002" r="2.35" fill="#e6e6e6" stroke="#2a2a2a" stroke-width="0.7"/>
<circle cx="371.2" cy="239.20000000000002" r="2.35" fill="#e6e6e6" stroke="#2a2a2a" stroke-width="0.7"/>
<circle cx="401.2" cy="237.5" r="2.35" fill="#e6e6e6" stroke="#2a2a2a" stroke-width="0.7"/>
<circle cx="398.8" cy="247.70000000000002" r="2.35" fill="#e6e6e6" stroke="#2a2a2a" stroke-width="0.7"/>
<circle cx="400.4" cy="250.3" r="2.35" fill="#e6e6e6" stroke="#2a2a2a" stroke-width="0.7"/>
<circle cx="372.5" cy="258.2" r="2.35" fill="#e6e6e6" stroke="#2a2a2a" stroke-width="0.7"/>
<circle cx="398.0" cy="268.3" r="2.35" fill="#e6e6e6" stroke="#2a2a2a" stroke-width="0.7"/>
<circle cx="404.0" cy="267.8" r="2.35" fill="#e6e6e6" stroke="#2a2a2a" stroke-width="0.7"/>
<circle cx="399.5" cy="271.3" r="2.35" fill="#e6e6e6" stroke="#2a2a2a" stroke-width="0.7"/>
<circle cx="371.5" cy="280.3" r="2.35" fill="#e6e6e6" stroke="#2a2a2a" stroke-width="0.7"/>
<circle cx="373.0" cy="279.8" r="2.35" fill="#e6e6e6" stroke="#2a2a2a" stroke-width="0.7"/>
<circle cx="363.5" cy="297.90000000000003" r="2.35" fill="#e6e6e6" stroke="#2a2a2a" stroke-width="0.7"/>
<circle cx="355.5" cy="308.8" r="2.35" fill="#e6e6e6" stroke="#2a2a2a" stroke-width="0.7"/>
<circle cx="356.0" cy="310.8" r="2.35" fill="#e6e6e6" stroke="#2a2a2a" stroke-width="0.7"/>
<circle cx="398.5" cy="305.3" r="2.35" fill="#e6e6e6" stroke="#2a2a2a" stroke-width="0.7"/>
<circle cx="400.0" cy="307.3" r="2.35" fill="#e6e6e6" stroke="#2a2a2a" stroke-width="0.7"/>
<circle cx="404.0" cy="306.8" r="2.35" fill="#e6e6e6" stroke="#2a2a2a" stroke-width="0.7"/>
<circle cx="401.5" cy="311.3" r="2.35" fill="#e6e6e6" stroke="#2a2a2a" stroke-width="0.7"/>
<circle cx="409.5" cy="309.8" r="2.35" fill="#e6e6e6" stroke="#2a2a2a" stroke-width="0.7"/>
<circle cx="398.0" cy="311.3" r="2.35" fill="#e6e6e6" stroke="#2a2a2a" stroke-width="0.7"/>
<circle cx="362.0" cy="327.5" r="2.35" fill="#e6e6e6" stroke="#2a2a2a" stroke-width="0.7"/>
<circle cx="366.0" cy="327.5" r="2.35" fill="#e6e6e6" stroke="#2a2a2a" stroke-width="0.7"/>
<circle cx="367.5" cy="327.5" r="2.35" fill="#e6e6e6" stroke="#2a2a2a" stroke-width="0.7"/>
<circle cx="399.2" cy="327.5" r="2.35" fill="#e6e6e6" stroke="#2a2a2a" stroke-width="0.7"/>
<circle cx="366.5" cy="336.8" r="2.35" fill="#e6e6e6" stroke="#2a2a2a" stroke-width="0.7"/>
<circle cx="399.0" cy="336.8" r="2.35" fill="#e6e6e6" stroke="#2a2a2a" stroke-width="0.7"/>
<circle cx="369.6" cy="350.3" r="2.35" fill="#e6e6e6" stroke="#2a2a2a" stroke-width="0.7"/>
<circle cx="404.0" cy="346.8" r="2.35" fill="#e6e6e6" stroke="#2a2a2a" stroke-width="0.7"/>
<circle cx="418.0" cy="347.3" r="2.35" fill="#e6e6e6" stroke="#2a2a2a" stroke-width="0.7"/>
<circle cx="368.8" cy="366.3" r="2.35" fill="#e6e6e6" stroke="#2a2a2a" stroke-width="0.7"/>
<circle cx="406.0" cy="358.3" r="2.35" fill="#e6e6e6" stroke="#2a2a2a" stroke-width="0.7"/>
<circle cx="408.0" cy="360.8" r="2.35" fill="#e6e6e6" stroke="#2a2a2a" stroke-width="0.7"/>
<circle cx="411.0" cy="359.3" r="2.35" fill="#e6e6e6" stroke="#2a2a2a" stroke-width="0.7"/>
<circle cx="413.0" cy="358.3" r="2.35" fill="#e6e6e6" stroke="#2a2a2a" stroke-width="0.7"/>
<circle cx="416.0" cy="358.8" r="2.35" fill="#e6e6e6" stroke="#2a2a2a" stroke-width="0.7"/>
<circle cx="417.5" cy="361.3" r="2.35" fill="#e6e6e6" stroke="#2a2a2a" stroke-width="0.7"/>
<circle cx="404.0" cy="364.3" r="2.35" fill="#e6e6e6" stroke="#2a2a2a" stroke-width="0.7"/>
<circle cx="408.0" cy="364.3" r="2.35" fill="#e6e6e6" stroke="#2a2a2a" stroke-width="0.7"/>
<circle cx="412.0" cy="364.3" r="2.35" fill="#e6e6e6" stroke="#2a2a2a" stroke-width="0.7"/>
<circle cx="416.0" cy="363.8" r="2.35" fill="#e6e6e6" stroke="#2a2a2a" stroke-width="0.7"/>
<circle cx="363.6" cy="375.8" r="2.35" fill="#e6e6e6" stroke="#2a2a2a" stroke-width="0.7"/>
<circle cx="368.5" cy="382.90000000000003" r="2.35" fill="#e6e6e6" stroke="#2a2a2a" stroke-width="0.7"/>
<line x1="342.0" y1="39.9" x2="348.0" y2="32.0" stroke="#5f7b38" stroke-width="0.5" stroke-dasharray="1.5,1"/>
<line x1="442.0" y1="66.5" x2="419.0" y2="78.0" stroke="#5f7b38" stroke-width="0.5" stroke-dasharray="1.5,1"/>
<line x1="425.0" y1="83.0" x2="441.0" y2="88.0" stroke="#5f7b38" stroke-width="0.5" stroke-dasharray="1.5,1"/>
<line x1="322.0" y1="88.0" x2="343.0" y2="104.5" stroke="#5f7b38" stroke-width="0.5" stroke-dasharray="1.5,1"/>
<line x1="307.5" y1="93.3" x2="338.0" y2="106.0" stroke="#5f7b38" stroke-width="0.5" stroke-dasharray="1.5,1"/>
<line x1="307.5" y1="103.8" x2="335.0" y2="107.5" stroke="#5f7b38" stroke-width="0.5" stroke-dasharray="1.5,1"/>
<line x1="323.0" y1="146.5" x2="342.0" y2="145.0" stroke="#5f7b38" stroke-width="0.5" stroke-dasharray="1.5,1"/>
<line x1="332.0" y1="157.3" x2="352.0" y2="147.5" stroke="#5f7b38" stroke-width="0.5" stroke-dasharray="1.5,1"/>
<line x1="316.0" y1="183.5" x2="350.0" y2="219.0" stroke="#5f7b38" stroke-width="0.5" stroke-dasharray="1.5,1"/>
<line x1="318.0" y1="209.5" x2="347.0" y2="220.0" stroke="#5f7b38" stroke-width="0.5" stroke-dasharray="1.5,1"/>
<line x1="318.0" y1="228.0" x2="340.0" y2="232.0" stroke="#5f7b38" stroke-width="0.5" stroke-dasharray="1.5,1"/>
<line x1="317.0" y1="240.0" x2="346.0" y2="234.0" stroke="#5f7b38" stroke-width="0.5" stroke-dasharray="1.5,1"/>
<line x1="333.0" y1="251.0" x2="350.0" y2="240.0" stroke="#5f7b38" stroke-width="0.5" stroke-dasharray="1.5,1"/>
<line x1="335.0" y1="263.0" x2="350.0" y2="240.0" stroke="#5f7b38" stroke-width="0.5" stroke-dasharray="1.5,1"/>
<line x1="340.0" y1="278.0" x2="347.0" y2="240.0" stroke="#5f7b38" stroke-width="0.5" stroke-dasharray="1.5,1"/>
<line x1="404.0" y1="224.5" x2="388.0" y2="227.0" stroke="#5f7b38" stroke-width="0.5" stroke-dasharray="1.5,1"/>
<line x1="418.0" y1="247.5" x2="395.0" y2="240.0" stroke="#5f7b38" stroke-width="0.5" stroke-dasharray="1.5,1"/>
<line x1="333.0" y1="344.5" x2="352.0" y2="338.0" stroke="#5f7b38" stroke-width="0.5" stroke-dasharray="1.5,1"/>
<line x1="326.0" y1="361.0" x2="348.0" y2="373.0" stroke="#5f7b38" stroke-width="0.5" stroke-dasharray="1.5,1"/>
<line x1="335.0" y1="380.0" x2="343.0" y2="377.0" stroke="#5f7b38" stroke-width="0.5" stroke-dasharray="1.5,1"/>
<circle cx="348.8" cy="29.400000000000002" r="2.45" fill="#cfe0b0" stroke="#4e6c26" stroke-width="1.25"/>
<circle cx="348.8" cy="29.400000000000002" r="0.5" fill="#4e6c26" opacity="0.25"/>
<circle cx="413.0" cy="80.0" r="2.45" fill="#cfe0b0" stroke="#4e6c26" stroke-width="1.25"/>
<circle cx="413.0" cy="80.0" r="0.5" fill="#4e6c26" opacity="0.25"/>
<circle cx="422.1" cy="80.5" r="2.45" fill="#cfe0b0" stroke="#4e6c26" stroke-width="1.25"/>
<circle cx="422.1" cy="80.5" r="0.5" fill="#4e6c26" opacity="0.25"/>
<circle cx="340.9" cy="109.0" r="2.45" fill="#cfe0b0" stroke="#4e6c26" stroke-width="1.25"/>
<circle cx="340.9" cy="109.0" r="0.5" fill="#4e6c26" opacity="0.25"/>
<circle cx="345.7" cy="108.6" r="2.45" fill="#cfe0b0" stroke="#4e6c26" stroke-width="1.25"/>
<circle cx="345.7" cy="108.6" r="0.5" fill="#4e6c26" opacity="0.25"/>
<circle cx="354.6" cy="107.3" r="2.45" fill="#cfe0b0" stroke="#4e6c26" stroke-width="1.25"/>
<circle cx="354.6" cy="107.3" r="0.5" fill="#4e6c26" opacity="0.25"/>
<circle cx="352.5" cy="144.5" r="2.45" fill="#cfe0b0" stroke="#4e6c26" stroke-width="1.25"/>
<circle cx="352.5" cy="144.5" r="0.5" fill="#4e6c26" opacity="0.25"/>
<circle cx="358.3" cy="145.10000000000002" r="2.45" fill="#cfe0b0" stroke="#4e6c26" stroke-width="1.25"/>
<circle cx="358.3" cy="145.10000000000002" r="0.5" fill="#4e6c26" opacity="0.25"/>
<circle cx="350.4" cy="221.3" r="2.45" fill="#cfe0b0" stroke="#4e6c26" stroke-width="1.25"/>
<circle cx="350.4" cy="221.3" r="0.5" fill="#4e6c26" opacity="0.25"/>
<circle cx="351.5" cy="228.5" r="2.45" fill="#cfe0b0" stroke="#4e6c26" stroke-width="1.25"/>
<circle cx="351.5" cy="228.5" r="0.5" fill="#4e6c26" opacity="0.25"/>
<circle cx="348.6" cy="231.9" r="2.45" fill="#cfe0b0" stroke="#4e6c26" stroke-width="1.25"/>
<circle cx="348.6" cy="231.9" r="0.5" fill="#4e6c26" opacity="0.25"/>
<circle cx="353.0" cy="230.9" r="2.45" fill="#cfe0b0" stroke="#4e6c26" stroke-width="1.25"/>
<circle cx="353.0" cy="230.9" r="0.5" fill="#4e6c26" opacity="0.25"/>
<circle cx="355.9" cy="237.0" r="2.45" fill="#cfe0b0" stroke="#4e6c26" stroke-width="1.25"/>
<circle cx="355.9" cy="237.0" r="0.5" fill="#4e6c26" opacity="0.25"/>
<circle cx="356.9" cy="335.90000000000003" r="2.45" fill="#cfe0b0" stroke="#4e6c26" stroke-width="1.25"/>
<circle cx="356.9" cy="335.90000000000003" r="0.5" fill="#4e6c26" opacity="0.25"/>
<circle cx="343.7" cy="375.3" r="2.45" fill="#cfe0b0" stroke="#4e6c26" stroke-width="1.25"/>
<circle cx="343.7" cy="375.3" r="0.5" fill="#4e6c26" opacity="0.25"/>
<circle cx="354.5" cy="375.3" r="2.45" fill="#cfe0b0" stroke="#4e6c26" stroke-width="1.25"/>
<circle cx="354.5" cy="375.3" r="0.5" fill="#4e6c26" opacity="0.25"/>
<text x="340.2" y="42.5" text-anchor="end" font-family='"Liberation Sans", sans-serif' font-size="6.5" fill="#5f7b38">dhCer(d18:0/24:0)</text>
<text x="417.0" y="66.2" text-anchor="start" font-family='"Liberation Sans", sans-serif' font-size="6.5" fill="#5f7b38">GM3(d18:1/20:0)</text>
<text x="414.9" y="94.8" text-anchor="start" font-family='"Liberation Sans", sans-serif' font-size="6.5" fill="#5f7b38">GM3(d18:1/24:1)</text>
<text x="276.5" y="87.19999999999999" text-anchor="start" font-family='"Liberation Sans", sans-serif' font-size="6.5" fill="#5f7b38">SM(d18:1/23:0)/SM(d17:1/24:0)</text>
<text x="305.0" y="95.89999999999999" text-anchor="end" font-family='"Liberation Sans", sans-serif' font-size="6.5" fill="#5f7b38">SM(d18:0/22:0)</text>
<text x="305.0" y="106.39999999999999" text-anchor="end" font-family='"Liberation Sans", sans-serif' font-size="6.5" fill="#5f7b38">SM(d18:1/24:0)</text>
<text x="320.8" y="149.1" text-anchor="end" font-family='"Liberation Sans", sans-serif' font-size="6.5" fill="#5f7b38">PC(O-36:5)</text>
<text x="329.7" y="159.9" text-anchor="end" font-family='"Liberation Sans", sans-serif' font-size="6.5" fill="#5f7b38">PC(O-16:0/22:6)</text>
<text x="312.8" y="185.9" text-anchor="end" font-family='"Liberation Sans", sans-serif' font-size="6.5" fill="#5f7b38">PE(O-16:0/22:6)</text>
<text x="315.2" y="212.29999999999998" text-anchor="end" font-family='"Liberation Sans", sans-serif' font-size="6.5" fill="#5f7b38">PE(O-18:1/22:6)</text>
<text x="269.1" y="230.5" text-anchor="start" font-family='"Liberation Sans", sans-serif' font-size="6.5" fill="#5f7b38">PE(P-18:0/22:6)</text>
<text x="314.1" y="242.6" text-anchor="end" font-family='"Liberation Sans", sans-serif' font-size="6.5" fill="#5f7b38">PE(P-16:0/20:5)</text>
<text x="330.2" y="253.79999999999998" text-anchor="end" font-family='"Liberation Sans", sans-serif' font-size="6.5" fill="#5f7b38">PE(P-18:1/20:5) (a)</text>
<text x="332.1" y="265.5" text-anchor="end" font-family='"Liberation Sans", sans-serif' font-size="6.5" fill="#5f7b38">PE(P-15:0/22:6) (b)</text>
<text x="336.9" y="280.8" text-anchor="end" font-family='"Liberation Sans", sans-serif' font-size="6.5" fill="#5f7b38">PE(P-16:0/22:6)</text>
<text x="405.8" y="227.2" text-anchor="start" font-family='"Liberation Sans", sans-serif' font-size="6.5" fill="#5f7b38">PE(P-17:0/22:6) (b)</text>
<text x="419.5" y="250.29999999999998" text-anchor="start" font-family='"Liberation Sans", sans-serif' font-size="6.5" fill="#5f7b38">PE(P-18:0/20:5)</text>
<text x="330.0" y="347.40000000000003" text-anchor="end" font-family='"Liberation Sans", sans-serif' font-size="6.5" fill="#5f7b38">AC(13:0)</text>
<text x="295.2" y="359.5" text-anchor="start" font-family='"Liberation Sans", sans-serif' font-size="6.5" fill="#5f7b38">TG(O-50:1) [NL-16:0]</text>
<text x="334.0" y="385.3" text-anchor="end" font-family='"Liberation Sans", sans-serif' font-size="6.5" fill="#5f7b38">TG(O-52:2) [NL-16:0]</text>
<text x="585.5" y="9.9" text-anchor="middle" font-family='"Liberation Sans", sans-serif' font-size="12.9" fill="#a81418">ADNI</text>
<line x1="505.5" y1="390.5" x2="669.5" y2="390.5" stroke="#111" stroke-width="1"/>
<path d="M503.3,390.5 L505.5,388.3 L507.7,390.5 L505.5,392.7Z" fill="#000"/>
<text x="505.5" y="404.5" text-anchor="middle" font-family='"Liberation Sans", sans-serif' font-size="10.2" font-weight="bold" fill="#111">0.25</text>
<path d="M544.3,390.5 L546.5,388.3 L548.7,390.5 L546.5,392.7Z" fill="#000"/>
<text x="546.5" y="404.5" text-anchor="middle" font-family='"Liberation Sans", sans-serif' font-size="10.2" font-weight="bold" fill="#111">0.5</text>
<path d="M585.3,390.5 L587.5,388.3 L589.7,390.5 L587.5,392.7Z" fill="#000"/>
<text x="587.5" y="404.5" text-anchor="middle" font-family='"Liberation Sans", sans-serif' font-size="10.2" font-weight="bold" fill="#111">1</text>
<path d="M626.3,390.5 L628.5,388.3 L630.7,390.5 L628.5,392.7Z" fill="#000"/>
<text x="628.5" y="404.5" text-anchor="middle" font-family='"Liberation Sans", sans-serif' font-size="10.2" font-weight="bold" fill="#111">2</text>
<path d="M667.3,390.5 L669.5,388.3 L671.7,390.5 L669.5,392.7Z" fill="#000"/>
<text x="669.5" y="404.5" text-anchor="middle" font-family='"Liberation Sans", sans-serif' font-size="10.2" font-weight="bold" fill="#111">4</text>
<text x="587.5" y="419.4" text-anchor="middle" font-family='"Liberation Sans", sans-serif' font-size="10.3" fill="#222">Odds ratio (95% CI)</text>
<circle cx="485.5" cy="436.6" r="1.5" fill="#fff" stroke="#888" stroke-width="0.6"/>
<text x="491.9" y="438.8" font-family='"Liberation Sans", sans-serif' font-size="8.75" fill="#222">Corrected <tspan font-style="italic">p</tspan> &gt; 0.05</text>
<circle cx="581.6" cy="436.5" r="2" fill="#ccc" stroke="#444" stroke-width="0.7"/>
<text x="588.2" y="438.8" font-family='"Liberation Sans", sans-serif' font-size="8.75" fill="#222">Corrected <tspan font-style="italic">p</tspan> &lt; 0.05</text>
<line x1="543.0" y1="29.5" x2="584.0" y2="29.5" stroke="#c2c2c2" stroke-width="2.0"/>
<line x1="599.0" y1="71.3" x2="635.0" y2="71.3" stroke="#c2c2c2" stroke-width="2.0"/>
<line x1="593.0" y1="80.0" x2="630.0" y2="80.0" stroke="#c2c2c2" stroke-width="2.0"/>
<line x1="595.0" y1="88.3" x2="626.0" y2="88.3" stroke="#c2c2c2" stroke-width="2.0"/>
<line x1="536.0" y1="109.89999999999999" x2="570.0" y2="109.89999999999999" stroke="#c2c2c2" stroke-width="2.0"/>
<line x1="590.0" y1="107.3" x2="605.0" y2="107.3" stroke="#c2c2c2" stroke-width="2.0"/>
<line x1="545.0" y1="126.3" x2="580.0" y2="126.3" stroke="#c2c2c2" stroke-width="2.0"/>
<line x1="550.0" y1="128.3" x2="582.0" y2="128.3" stroke="#c2c2c2" stroke-width="2.0"/>
<line x1="541.0" y1="130.8" x2="578.0" y2="130.8" stroke="#c2c2c2" stroke-width="2.0"/>
<line x1="548.0" y1="133.3" x2="583.0" y2="133.3" stroke="#c2c2c2" stroke-width="2.0"/>
<line x1="590.0" y1="121.8" x2="630.0" y2="121.8" stroke="#c2c2c2" stroke-width="2.0"/>
<line x1="593.0" y1="126.8" x2="633.0" y2="126.8" stroke="#c2c2c2" stroke-width="2.0"/>
<line x1="595.0" y1="129.8" x2="635.0" y2="129.8" stroke="#c2c2c2" stroke-width="2.0"/>
<line x1="595.0" y1="133.8" x2="625.0" y2="133.8" stroke="#c2c2c2" stroke-width="2.0"/>
<line x1="560.0" y1="145.3" x2="590.0" y2="145.3" stroke="#c2c2c2" stroke-width="2.0"/>
<line x1="595.0" y1="143.3" x2="635.0" y2="143.3" stroke="#c2c2c2" stroke-width="2.0"/>
<line x1="544.0" y1="157.60000000000002" x2="585.0" y2="157.60000000000002" stroke="#c2c2c2" stroke-width="2.0"/>
<line x1="545.0" y1="176.8" x2="585.0" y2="176.8" stroke="#c2c2c2" stroke-width="2.0"/>
<line x1="592.0" y1="187.10000000000002" x2="625.0" y2="187.10000000000002" stroke="#c2c2c2" stroke-width="2.0"/>
<line x1="590.0" y1="205.3" x2="640.0" y2="205.3" stroke="#c2c2c2" stroke-width="2.0"/>
<line x1="592.0" y1="208.3" x2="634.0" y2="208.3" stroke="#c2c2c2" stroke-width="2.0"/>
<line x1="593.0" y1="210.8" x2="630.0" y2="210.8" stroke="#c2c2c2" stroke-width="2.0"/>
<line x1="560.0" y1="219.8" x2="590.0" y2="219.8" stroke="#c2c2c2" stroke-width="2.0"/>
<line x1="560.0" y1="229.3" x2="595.0" y2="229.3" stroke="#c2c2c2" stroke-width="2.0"/>
<line x1="562.0" y1="231.8" x2="598.0" y2="231.8" stroke="#c2c2c2" stroke-width="2.0"/>
<line x1="560.0" y1="234.3" x2="596.0" y2="234.3" stroke="#c2c2c2" stroke-width="2.0"/>
<line x1="563.0" y1="236.8" x2="594.0" y2="236.8" stroke="#c2c2c2" stroke-width="2.0"/>
<line x1="561.0" y1="238.8" x2="592.0" y2="238.8" stroke="#c2c2c2" stroke-width="2.0"/>
<line x1="590.0" y1="236.3" x2="624.0" y2="236.3" stroke="#c2c2c2" stroke-width="2.0"/>
<line x1="590.0" y1="250.20000000000002" x2="623.0" y2="250.20000000000002" stroke="#c2c2c2" stroke-width="2.0"/>
<line x1="560.0" y1="309.8" x2="570.0" y2="309.8" stroke="#c2c2c2" stroke-width="2.0"/>
<line x1="590.0" y1="308.3" x2="659.0" y2="308.3" stroke="#c2c2c2" stroke-width="2.0"/>
<line x1="594.0" y1="310.3" x2="635.0" y2="310.3" stroke="#c2c2c2" stroke-width="2.0"/>
<line x1="545.0" y1="328.0" x2="580.0" y2="328.0" stroke="#c2c2c2" stroke-width="2.0"/>
<line x1="551.5" y1="336.40000000000003" x2="582.0" y2="336.40000000000003" stroke="#c2c2c2" stroke-width="2.0"/>
<line x1="592.0" y1="337.3" x2="625.0" y2="337.3" stroke="#c2c2c2" stroke-width="2.0"/>
<line x1="543.0" y1="350.7" x2="580.0" y2="350.7" stroke="#c2c2c2" stroke-width="2.0"/>
<line x1="593.0" y1="348.8" x2="660.0" y2="348.8" stroke="#c2c2c2" stroke-width="2.0"/>
<line x1="590.0" y1="358.3" x2="645.0" y2="358.3" stroke="#c2c2c2" stroke-width="2.0"/>
<line x1="592.0" y1="360.3" x2="640.0" y2="360.3" stroke="#c2c2c2" stroke-width="2.0"/>
<line x1="591.0" y1="362.3" x2="642.0" y2="362.3" stroke="#c2c2c2" stroke-width="2.0"/>
<line x1="594.0" y1="364.3" x2="636.0" y2="364.3" stroke="#c2c2c2" stroke-width="2.0"/>
<line x1="590.0" y1="366.3" x2="632.0" y2="366.3" stroke="#c2c2c2" stroke-width="2.0"/>
<line x1="554.0" y1="375.1" x2="573.0" y2="375.1" stroke="#c2c2c2" stroke-width="2.0"/>
<line x1="587.5" y1="19" x2="587.5" y2="390.5" stroke="#444" stroke-width="1.1"/>
<line x1="605.0" y1="104.8" x2="641.8" y2="104.8" stroke="#6a1717" stroke-width="2.0" stroke-linecap="butt"/>
<line x1="605.0" y1="111.1" x2="639.3" y2="111.1" stroke="#6a1717" stroke-width="2.0" stroke-linecap="butt"/>
<line x1="538.6" y1="144.8" x2="571.0" y2="144.8" stroke="#6a1717" stroke-width="2.0" stroke-linecap="butt"/>
<line x1="541.8" y1="174.8" x2="575.5" y2="174.8" stroke="#6a1717" stroke-width="2.0" stroke-linecap="butt"/>
<line x1="608.0" y1="207.3" x2="646.0" y2="207.3" stroke="#6a1717" stroke-width="2.0" stroke-linecap="butt"/>
<line x1="534.6" y1="220.5" x2="570.0" y2="220.5" stroke="#6a1717" stroke-width="2.0" stroke-linecap="butt"/>
<line x1="536.0" y1="222.10000000000002" x2="568.0" y2="222.10000000000002" stroke="#6a1717" stroke-width="2.0" stroke-linecap="butt"/>
<line x1="543.2" y1="229.60000000000002" x2="575.0" y2="229.60000000000002" stroke="#6a1717" stroke-width="2.0" stroke-linecap="butt"/>
<line x1="536.2" y1="231.20000000000002" x2="574.0" y2="231.20000000000002" stroke="#6a1717" stroke-width="2.0" stroke-linecap="butt"/>
<line x1="539.9" y1="233.20000000000002" x2="573.0" y2="233.20000000000002" stroke="#6a1717" stroke-width="2.0" stroke-linecap="butt"/>
<line x1="538.6" y1="234.8" x2="574.0" y2="234.8" stroke="#6a1717" stroke-width="2.0" stroke-linecap="butt"/>
<line x1="534.0" y1="236.8" x2="573.0" y2="236.8" stroke="#6a1717" stroke-width="2.0" stroke-linecap="butt"/>
<line x1="534.6" y1="238.0" x2="572.0" y2="238.0" stroke="#6a1717" stroke-width="2.0" stroke-linecap="butt"/>
<line x1="605.0" y1="268.7" x2="641.5" y2="268.7" stroke="#6a1717" stroke-width="2.0" stroke-linecap="butt"/>
<line x1="524.2" y1="309.6" x2="564.3" y2="309.6" stroke="#6a1717" stroke-width="2.0" stroke-linecap="butt"/>
<line x1="607.0" y1="360.3" x2="655.5" y2="360.3" stroke="#6a1717" stroke-width="2.0" stroke-linecap="butt"/>
<line x1="542.0" y1="366.8" x2="572.8" y2="366.8" stroke="#6a1717" stroke-width="2.0" stroke-linecap="butt"/>
<line x1="529.1" y1="375.3" x2="567.2" y2="375.3" stroke="#6a1717" stroke-width="2.0" stroke-linecap="butt"/>
<circle cx="573.0" cy="29.8" r="1.8" fill="#fff" stroke="#888" stroke-width="0.55"/>
<circle cx="575.5" cy="29.3" r="1.8" fill="#fff" stroke="#888" stroke-width="0.55"/>
<circle cx="581.0" cy="29.3" r="1.8" fill="#fff" stroke="#888" stroke-width="0.55"/>
<circle cx="584.0" cy="29.3" r="1.8" fill="#fff" stroke="#888" stroke-width="0.55"/>
<circle cx="568.0" cy="45.3" r="1.8" fill="#fff" stroke="#888" stroke-width="0.55"/>
<circle cx="590.0" cy="37.8" r="1.8" fill="#fff" stroke="#888" stroke-width="0.55"/>
<circle cx="595.0" cy="40.8" r="1.8" fill="#fff" stroke="#888" stroke-width="0.55"/>
<circle cx="596.0" cy="45.3" r="1.8" fill="#fff" stroke="#888" stroke-width="0.55"/>
<circle cx="603.0" cy="40.8" r="1.8" fill="#fff" stroke="#888" stroke-width="0.55"/>
<circle cx="605.0" cy="40.3" r="1.8" fill="#fff" stroke="#888" stroke-width="0.55"/>
<circle cx="589.0" cy="44.3" r="1.8" fill="#fff" stroke="#888" stroke-width="0.55"/>
<circle cx="570.8" cy="54.0" r="1.8" fill="#fff" stroke="#888" stroke-width="0.55"/>
<circle cx="587.0" cy="53.8" r="1.8" fill="#fff" stroke="#888" stroke-width="0.55"/>
<circle cx="595.5" cy="53.8" r="1.8" fill="#fff" stroke="#888" stroke-width="0.55"/>
<circle cx="576.6" cy="62.3" r="1.8" fill="#fff" stroke="#888" stroke-width="0.55"/>
<circle cx="583.8" cy="62.8" r="1.8" fill="#fff" stroke="#888" stroke-width="0.55"/>
<circle cx="591.5" cy="62.599999999999994" r="1.8" fill="#fff" stroke="#888" stroke-width="0.55"/>
<circle cx="596.5" cy="62.599999999999994" r="1.8" fill="#fff" stroke="#888" stroke-width="0.55"/>
<circle cx="601.0" cy="62.3" r="1.8" fill="#fff" stroke="#888" stroke-width="0.55"/>
<circle cx="603.0" cy="62.3" r="1.8" fill="#fff" stroke="#888" stroke-width="0.55"/>
<circle cx="591.0" cy="71.8" r="1.8" fill="#fff" stroke="#888" stroke-width="0.55"/>
<circle cx="576.0" cy="96.1" r="1.8" fill="#fff" stroke="#888" stroke-width="0.55"/>
<circle cx="581.0" cy="95.8" r="1.8" fill="#fff" stroke="#888" stroke-width="0.55"/>
<circle cx="583.0" cy="96.1" r="1.8" fill="#fff" stroke="#888" stroke-width="0.55"/>
<circle cx="597.0" cy="96.1" r="1.8" fill="#fff" stroke="#888" stroke-width="0.55"/>
<circle cx="567.0" cy="105.3" r="1.8" fill="#fff" stroke="#888" stroke-width="0.55"/>
<circle cx="567.0" cy="109.8" r="1.8" fill="#fff" stroke="#888" stroke-width="0.55"/>
<circle cx="570.0" cy="108.3" r="1.8" fill="#fff" stroke="#888" stroke-width="0.55"/>
<circle cx="572.0" cy="106.3" r="1.8" fill="#fff" stroke="#888" stroke-width="0.55"/>
<circle cx="574.0" cy="104.3" r="1.8" fill="#fff" stroke="#888" stroke-width="0.55"/>
<circle cx="577.0" cy="105.3" r="1.8" fill="#fff" stroke="#888" stroke-width="0.55"/>
<circle cx="579.0" cy="107.3" r="1.8" fill="#fff" stroke="#888" stroke-width="0.55"/>
<circle cx="581.0" cy="106.3" r="1.8" fill="#fff" stroke="#888" stroke-width="0.55"/>
<circle cx="575.0" cy="110.3" r="1.8" fill="#fff" stroke="#888" stroke-width="0.55"/>
<circle cx="578.0" cy="111.8" r="1.8" fill="#fff" stroke="#888" stroke-width="0.55"/>
<circle cx="580.0" cy="111.8" r="1.8" fill="#fff" stroke="#888" stroke-width="0.55"/>
<circle cx="584.0" cy="107.3" r="1.8" fill="#fff" stroke="#888" stroke-width="0.55"/>
<circle cx="583.0" cy="111.3" r="1.8" fill="#fff" stroke="#888" stroke-width="0.55"/>
<circle cx="586.0" cy="104.3" r="1.8" fill="#fff" stroke="#888" stroke-width="0.55"/>
<circle cx="591.0" cy="105.3" r="1.8" fill="#fff" stroke="#888" stroke-width="0.55"/>
<circle cx="593.0" cy="108.3" r="1.8" fill="#fff" stroke="#888" stroke-width="0.55"/>
<circle cx="595.0" cy="111.3" r="1.8" fill="#fff" stroke="#888" stroke-width="0.55"/>
<circle cx="598.0" cy="106.3" r="1.8" fill="#fff" stroke="#888" stroke-width="0.55"/>
<circle cx="600.0" cy="110.3" r="1.8" fill="#fff" stroke="#888" stroke-width="0.55"/>
<circle cx="569.5" cy="123.3" r="1.8" fill="#fff" stroke="#888" stroke-width="0.55"/>
<circle cx="571.0" cy="130.3" r="1.8" fill="#fff" stroke="#888" stroke-width="0.55"/>
<circle cx="573.0" cy="128.3" r="1.8" fill="#fff" stroke="#888" stroke-width="0.55"/>
<circle cx="579.0" cy="129.3" r="1.8" fill="#fff" stroke="#888" stroke-width="0.55"/>
<circle cx="572.0" cy="133.3" r="1.8" fill="#fff" stroke="#888" stroke-width="0.55"/>
<circle cx="586.0" cy="124.3" r="1.8" fill="#fff" stroke="#888" stroke-width="0.55"/>
<circle cx="593.0" cy="126.3" r="1.8" fill="#fff" stroke="#888" stroke-width="0.55"/>
<circle cx="599.0" cy="121.3" r="1.8" fill="#fff" stroke="#888" stroke-width="0.55"/>
<circle cx="603.0" cy="127.3" r="1.8" fill="#fff" stroke="#888" stroke-width="0.55"/>
<circle cx="605.0" cy="130.3" r="1.8" fill="#fff" stroke="#888" stroke-width="0.55"/>
<circle cx="600.0" cy="134.3" r="1.8" fill="#fff" stroke="#888" stroke-width="0.55"/>
<circle cx="572.0" cy="142.8" r="1.8" fill="#fff" stroke="#888" stroke-width="0.55"/>
<circle cx="584.0" cy="141.8" r="1.8" fill="#fff" stroke="#888" stroke-width="0.55"/>
<circle cx="599.0" cy="144.3" r="1.8" fill="#fff" stroke="#888" stroke-width="0.55"/>
<circle cx="603.0" cy="144.8" r="1.8" fill="#fff" stroke="#888" stroke-width="0.55"/>
<circle cx="606.0" cy="144.3" r="1.8" fill="#fff" stroke="#888" stroke-width="0.55"/>
<circle cx="572.0" cy="156.8" r="1.8" fill="#fff" stroke="#888" stroke-width="0.55"/>
<circle cx="583.0" cy="156.8" r="1.8" fill="#fff" stroke="#888" stroke-width="0.55"/>
<circle cx="597.0" cy="157.3" r="1.8" fill="#fff" stroke="#888" stroke-width="0.55"/>
<circle cx="603.0" cy="154.3" r="1.8" fill="#fff" stroke="#888" stroke-width="0.55"/>
<circle cx="610.0" cy="154.3" r="1.8" fill="#fff" stroke="#888" stroke-width="0.55"/>
<circle cx="577.0" cy="167.3" r="1.8" fill="#fff" stroke="#888" stroke-width="0.55"/>
<circle cx="583.0" cy="174.3" r="1.8" fill="#fff" stroke="#888" stroke-width="0.55"/>
<circle cx="587.0" cy="167.3" r="1.8" fill="#fff" stroke="#888" stroke-width="0.55"/>
<circle cx="600.0" cy="167.8" r="1.8" fill="#fff" stroke="#888" stroke-width="0.55"/>
<circle cx="601.0" cy="175.8" r="1.8" fill="#fff" stroke="#888" stroke-width="0.55"/>
<circle cx="584.0" cy="187.3" r="1.8" fill="#fff" stroke="#888" stroke-width="0.55"/>
<circle cx="587.5" cy="187.3" r="1.8" fill="#fff" stroke="#888" stroke-width="0.55"/>
<circle cx="595.0" cy="196.0" r="1.8" fill="#fff" stroke="#888" stroke-width="0.55"/>
<circle cx="601.5" cy="196.0" r="1.8" fill="#fff" stroke="#888" stroke-width="0.55"/>
<circle cx="596.0" cy="209.3" r="1.8" fill="#fff" stroke="#888" stroke-width="0.55"/>
<circle cx="602.0" cy="207.3" r="1.8" fill="#fff" stroke="#888" stroke-width="0.55"/>
<circle cx="604.0" cy="210.3" r="1.8" fill="#fff" stroke="#888" stroke-width="0.55"/>
<circle cx="606.0" cy="205.3" r="1.8" fill="#fff" stroke="#888" stroke-width="0.55"/>
<circle cx="573.0" cy="219.3" r="1.8" fill="#fff" stroke="#888" stroke-width="0.55"/>
<circle cx="580.5" cy="219.3" r="1.8" fill="#fff" stroke="#888" stroke-width="0.55"/>
<circle cx="586.0" cy="219.8" r="1.8" fill="#fff" stroke="#888" stroke-width="0.55"/>
<circle cx="575.0" cy="229.3" r="1.8" fill="#fff" stroke="#888" stroke-width="0.55"/>
<circle cx="582.0" cy="238.3" r="1.8" fill="#fff" stroke="#888" stroke-width="0.55"/>
<circle cx="588.0" cy="236.3" r="1.8" fill="#fff" stroke="#888" stroke-width="0.55"/>
<circle cx="601.0" cy="233.8" r="1.8" fill="#fff" stroke="#888" stroke-width="0.55"/>
<circle cx="603.5" cy="234.8" r="1.8" fill="#fff" stroke="#888" stroke-width="0.55"/>
<circle cx="604.0" cy="238.8" r="1.8" fill="#fff" stroke="#888" stroke-width="0.55"/>
<circle cx="607.0" cy="236.8" r="1.8" fill="#fff" stroke="#888" stroke-width="0.55"/>
<circle cx="580.5" cy="250.8" r="1.8" fill="#fff" stroke="#888" stroke-width="0.55"/>
<circle cx="591.0" cy="248.8" r="1.8" fill="#fff" stroke="#888" stroke-width="0.55"/>
<circle cx="593.0" cy="249.3" r="1.8" fill="#fff" stroke="#888" stroke-width="0.55"/>
<circle cx="596.0" cy="249.8" r="1.8" fill="#fff" stroke="#888" stroke-width="0.55"/>
<circle cx="598.5" cy="249.8" r="1.8" fill="#fff" stroke="#888" stroke-width="0.55"/>
<circle cx="602.0" cy="250.3" r="1.8" fill="#fff" stroke="#888" stroke-width="0.55"/>
<circle cx="570.0" cy="258.7" r="1.8" fill="#fff" stroke="#888" stroke-width="0.55"/>
<circle cx="585.0" cy="258.8" r="1.8" fill="#fff" stroke="#888" stroke-width="0.55"/>
<circle cx="584.5" cy="267.8" r="1.8" fill="#fff" stroke="#888" stroke-width="0.55"/>
<circle cx="586.0" cy="270.3" r="1.8" fill="#fff" stroke="#888" stroke-width="0.55"/>
<circle cx="591.0" cy="266.8" r="1.8" fill="#fff" stroke="#888" stroke-width="0.55"/>
<circle cx="592.5" cy="268.3" r="1.8" fill="#fff" stroke="#888" stroke-width="0.55"/>
<circle cx="596.0" cy="268.3" r="1.8" fill="#fff" stroke="#888" stroke-width="0.55"/>
<circle cx="599.0" cy="269.8" r="1.8" fill="#fff" stroke="#888" stroke-width="0.55"/>
<circle cx="602.0" cy="267.3" r="1.8" fill="#fff" stroke="#888" stroke-width="0.55"/>
<circle cx="603.5" cy="268.8" r="1.8" fill="#fff" stroke="#888" stroke-width="0.55"/>
<circle cx="572.0" cy="272.3" r="1.8" fill="#fff" stroke="#888" stroke-width="0.55"/>
<circle cx="578.0" cy="280.3" r="1.8" fill="#fff" stroke="#888" stroke-width="0.55"/>
<circle cx="580.0" cy="280.8" r="1.8" fill="#fff" stroke="#888" stroke-width="0.55"/>
<circle cx="583.0" cy="280.8" r="1.8" fill="#fff" stroke="#888" stroke-width="0.55"/>
<circle cx="588.0" cy="289.3" r="1.8" fill="#fff" stroke="#888" stroke-width="0.55"/>
<circle cx="602.0" cy="289.3" r="1.8" fill="#fff" stroke="#888" stroke-width="0.55"/>
<circle cx="581.5" cy="297.8" r="1.8" fill="#fff" stroke="#888" stroke-width="0.55"/>
<circle cx="598.0" cy="298.0" r="1.8" fill="#fff" stroke="#888" stroke-width="0.55"/>
<circle cx="603.0" cy="298.0" r="1.8" fill="#fff" stroke="#888" stroke-width="0.55"/>
<circle cx="608.0" cy="298.0" r="1.8" fill="#fff" stroke="#888" stroke-width="0.55"/>
<circle cx="569.5" cy="307.8" r="1.8" fill="#fff" stroke="#888" stroke-width="0.55"/>
<circle cx="572.0" cy="311.3" r="1.8" fill="#fff" stroke="#888" stroke-width="0.55"/>
<circle cx="576.0" cy="311.8" r="1.8" fill="#fff" stroke="#888" stroke-width="0.55"/>
<circle cx="580.0" cy="306.8" r="1.8" fill="#fff" stroke="#888" stroke-width="0.55"/>
<circle cx="582.0" cy="308.3" r="1.8" fill="#fff" stroke="#888" stroke-width="0.55"/>
<circle cx="584.5" cy="309.3" r="1.8" fill="#fff" stroke="#888" stroke-width="0.55"/>
<circle cx="586.0" cy="306.3" r="1.8" fill="#fff" stroke="#888" stroke-width="0.55"/>
<circle cx="589.0" cy="309.3" r="1.8" fill="#fff" stroke="#888" stroke-width="0.55"/>
<circle cx="592.0" cy="307.3" r="1.8" fill="#fff" stroke="#888" stroke-width="0.55"/>
<circle cx="595.0" cy="310.3" r="1.8" fill="#fff" stroke="#888" stroke-width="0.55"/>
<circle cx="598.0" cy="308.3" r="1.8" fill="#fff" stroke="#888" stroke-width="0.55"/>
<circle cx="589.0" cy="319.2" r="1.8" fill="#fff" stroke="#888" stroke-width="0.55"/>
<circle cx="581.5" cy="328.0" r="1.8" fill="#fff" stroke="#888" stroke-width="0.55"/>
<circle cx="589.0" cy="327.6" r="1.8" fill="#fff" stroke="#888" stroke-width="0.55"/>
<circle cx="602.0" cy="327.6" r="1.8" fill="#fff" stroke="#888" stroke-width="0.55"/>
<circle cx="606.0" cy="327.6" r="1.8" fill="#fff" stroke="#888" stroke-width="0.55"/>
<circle cx="581.0" cy="337.3" r="1.8" fill="#fff" stroke="#888" stroke-width="0.55"/>
<circle cx="568.0" cy="347.8" r="1.8" fill="#fff" stroke="#888" stroke-width="0.55"/>
<circle cx="571.5" cy="346.3" r="1.8" fill="#fff" stroke="#888" stroke-width="0.55"/>
<circle cx="576.0" cy="348.3" r="1.8" fill="#fff" stroke="#888" stroke-width="0.55"/>
<circle cx="578.0" cy="350.3" r="1.8" fill="#fff" stroke="#888" stroke-width="0.55"/>
<circle cx="584.5" cy="348.8" r="1.8" fill="#fff" stroke="#888" stroke-width="0.55"/>
<circle cx="585.0" cy="351.8" r="1.8" fill="#fff" stroke="#888" stroke-width="0.55"/>
<circle cx="569.0" cy="357.3" r="1.8" fill="#fff" stroke="#888" stroke-width="0.55"/>
<circle cx="572.0" cy="360.3" r="1.8" fill="#fff" stroke="#888" stroke-width="0.55"/>
<circle cx="577.0" cy="358.3" r="1.8" fill="#fff" stroke="#888" stroke-width="0.55"/>
<circle cx="571.5" cy="362.3" r="1.8" fill="#fff" stroke="#888" stroke-width="0.55"/>
<circle cx="575.0" cy="366.3" r="1.8" fill="#fff" stroke="#888" stroke-width="0.55"/>
<circle cx="590.0" cy="363.3" r="1.8" fill="#fff" stroke="#888" stroke-width="0.55"/>
<circle cx="596.0" cy="364.3" r="1.8" fill="#fff" stroke="#888" stroke-width="0.55"/>
<circle cx="602.0" cy="365.3" r="1.8" fill="#fff" stroke="#888" stroke-width="0.55"/>
<circle cx="604.0" cy="360.3" r="1.8" fill="#fff" stroke="#888" stroke-width="0.55"/>
<circle cx="606.0" cy="363.3" r="1.8" fill="#fff" stroke="#888" stroke-width="0.55"/>
<circle cx="608.0" cy="357.3" r="1.8" fill="#fff" stroke="#888" stroke-width="0.55"/>
<circle cx="576.8" cy="383.3" r="1.8" fill="#fff" stroke="#888" stroke-width="0.55"/>
<circle cx="574.5" cy="41.3" r="2.1" fill="#d8d8d8" stroke="#999" stroke-width="0.6"/>
<circle cx="578.5" cy="41.3" r="2.1" fill="#d8d8d8" stroke="#999" stroke-width="0.6"/>
<circle cx="581.0" cy="37.8" r="2.1" fill="#d8d8d8" stroke="#999" stroke-width="0.6"/>
<circle cx="586.0" cy="37.3" r="2.1" fill="#d8d8d8" stroke="#999" stroke-width="0.6"/>
<circle cx="581.0" cy="45.3" r="2.1" fill="#d8d8d8" stroke="#999" stroke-width="0.6"/>
<circle cx="584.0" cy="44.3" r="2.1" fill="#d8d8d8" stroke="#999" stroke-width="0.6"/>
<circle cx="591.5" cy="39.3" r="2.1" fill="#d8d8d8" stroke="#999" stroke-width="0.6"/>
<circle cx="593.0" cy="41.3" r="2.1" fill="#d8d8d8" stroke="#999" stroke-width="0.6"/>
<circle cx="597.0" cy="42.3" r="2.1" fill="#d8d8d8" stroke="#999" stroke-width="0.6"/>
<circle cx="594.0" cy="43.8" r="2.1" fill="#d8d8d8" stroke="#999" stroke-width="0.6"/>
<circle cx="598.0" cy="44.3" r="2.1" fill="#d8d8d8" stroke="#999" stroke-width="0.6"/>
<circle cx="600.0" cy="40.3" r="2.1" fill="#d8d8d8" stroke="#999" stroke-width="0.6"/>
<circle cx="579.5" cy="53.8" r="2.1" fill="#d8d8d8" stroke="#999" stroke-width="0.6"/>
<circle cx="605.0" cy="71.3" r="2.1" fill="#d8d8d8" stroke="#999" stroke-width="0.6"/>
<circle cx="608.0" cy="71.3" r="2.1" fill="#d8d8d8" stroke="#999" stroke-width="0.6"/>
<circle cx="595.0" cy="80.0" r="2.1" fill="#d8d8d8" stroke="#999" stroke-width="0.6"/>
<circle cx="603.5" cy="80.0" r="2.1" fill="#d8d8d8" stroke="#999" stroke-width="0.6"/>
<circle cx="580.0" cy="120.8" r="2.1" fill="#d8d8d8" stroke="#999" stroke-width="0.6"/>
<circle cx="576.0" cy="131.3" r="2.1" fill="#d8d8d8" stroke="#999" stroke-width="0.6"/>
<circle cx="582.0" cy="127.3" r="2.1" fill="#d8d8d8" stroke="#999" stroke-width="0.6"/>
<circle cx="584.0" cy="133.3" r="2.1" fill="#d8d8d8" stroke="#999" stroke-width="0.6"/>
<circle cx="589.0" cy="120.3" r="2.1" fill="#d8d8d8" stroke="#999" stroke-width="0.6"/>
<circle cx="591.0" cy="123.3" r="2.1" fill="#d8d8d8" stroke="#999" stroke-width="0.6"/>
<circle cx="595.0" cy="129.3" r="2.1" fill="#d8d8d8" stroke="#999" stroke-width="0.6"/>
<circle cx="597.0" cy="132.3" r="2.1" fill="#d8d8d8" stroke="#999" stroke-width="0.6"/>
<circle cx="601.0" cy="124.3" r="2.1" fill="#d8d8d8" stroke="#999" stroke-width="0.6"/>
<circle cx="590.0" cy="133.3" r="2.1" fill="#d8d8d8" stroke="#999" stroke-width="0.6"/>
<circle cx="575.0" cy="142.8" r="2.1" fill="#d8d8d8" stroke="#999" stroke-width="0.6"/>
<circle cx="581.0" cy="142.8" r="2.1" fill="#d8d8d8" stroke="#999" stroke-width="0.6"/>
<circle cx="590.0" cy="141.8" r="2.1" fill="#d8d8d8" stroke="#999" stroke-width="0.6"/>
<circle cx="595.5" cy="141.8" r="2.1" fill="#d8d8d8" stroke="#999" stroke-width="0.6"/>
<circle cx="575.0" cy="156.8" r="2.1" fill="#d8d8d8" stroke="#999" stroke-width="0.6"/>
<circle cx="577.5" cy="156.3" r="2.1" fill="#d8d8d8" stroke="#999" stroke-width="0.6"/>
<circle cx="591.0" cy="157.3" r="2.1" fill="#d8d8d8" stroke="#999" stroke-width="0.6"/>
<circle cx="595.0" cy="154.3" r="2.1" fill="#d8d8d8" stroke="#999" stroke-width="0.6"/>
<circle cx="599.0" cy="154.8" r="2.1" fill="#d8d8d8" stroke="#999" stroke-width="0.6"/>
<circle cx="601.0" cy="157.8" r="2.1" fill="#d8d8d8" stroke="#999" stroke-width="0.6"/>
<circle cx="578.0" cy="170.3" r="2.1" fill="#d8d8d8" stroke="#999" stroke-width="0.6"/>
<circle cx="580.0" cy="172.3" r="2.1" fill="#d8d8d8" stroke="#999" stroke-width="0.6"/>
<circle cx="586.0" cy="175.3" r="2.1" fill="#d8d8d8" stroke="#999" stroke-width="0.6"/>
<circle cx="581.0" cy="167.3" r="2.1" fill="#d8d8d8" stroke="#999" stroke-width="0.6"/>
<circle cx="590.0" cy="167.3" r="2.1" fill="#d8d8d8" stroke="#999" stroke-width="0.6"/>
<circle cx="592.0" cy="167.3" r="2.1" fill="#d8d8d8" stroke="#999" stroke-width="0.6"/>
<circle cx="597.0" cy="170.3" r="2.1" fill="#d8d8d8" stroke="#999" stroke-width="0.6"/>
<circle cx="580.0" cy="172.8" r="2.1" fill="#d8d8d8" stroke="#999" stroke-width="0.6"/>
<circle cx="583.0" cy="174.3" r="2.1" fill="#d8d8d8" stroke="#999" stroke-width="0.6"/>
<circle cx="589.0" cy="174.3" r="2.1" fill="#d8d8d8" stroke="#999" stroke-width="0.6"/>
<circle cx="595.0" cy="187.3" r="2.1" fill="#d8d8d8" stroke="#999" stroke-width="0.6"/>
<circle cx="600.0" cy="187.3" r="2.1" fill="#d8d8d8" stroke="#999" stroke-width="0.6"/>
<circle cx="603.0" cy="187.3" r="2.1" fill="#d8d8d8" stroke="#999" stroke-width="0.6"/>
<circle cx="590.0" cy="204.3" r="2.1" fill="#d8d8d8" stroke="#999" stroke-width="0.6"/>
<circle cx="593.0" cy="206.3" r="2.1" fill="#d8d8d8" stroke="#999" stroke-width="0.6"/>
<circle cx="599.0" cy="204.3" r="2.1" fill="#d8d8d8" stroke="#999" stroke-width="0.6"/>
<circle cx="577.0" cy="219.3" r="2.1" fill="#d8d8d8" stroke="#999" stroke-width="0.6"/>
<circle cx="583.0" cy="220.3" r="2.1" fill="#d8d8d8" stroke="#999" stroke-width="0.6"/>
<circle cx="578.0" cy="219.8" r="2.1" fill="#d8d8d8" stroke="#999" stroke-width="0.6"/>
<circle cx="592.0" cy="219.8" r="2.1" fill="#d8d8d8" stroke="#999" stroke-width="0.6"/>
<circle cx="594.0" cy="219.8" r="2.1" fill="#d8d8d8" stroke="#999" stroke-width="0.6"/>
<circle cx="578.0" cy="232.3" r="2.1" fill="#d8d8d8" stroke="#999" stroke-width="0.6"/>
<circle cx="580.0" cy="235.3" r="2.1" fill="#d8d8d8" stroke="#999" stroke-width="0.6"/>
<circle cx="584.0" cy="230.3" r="2.1" fill="#d8d8d8" stroke="#999" stroke-width="0.6"/>
<circle cx="586.0" cy="233.3" r="2.1" fill="#d8d8d8" stroke="#999" stroke-width="0.6"/>
<circle cx="591.5" cy="233.3" r="2.1" fill="#d8d8d8" stroke="#999" stroke-width="0.6"/>
<circle cx="598.0" cy="232.8" r="2.1" fill="#d8d8d8" stroke="#999" stroke-width="0.6"/>
<circle cx="600.5" cy="239.3" r="2.1" fill="#d8d8d8" stroke="#999" stroke-width="0.6"/>
<circle cx="573.0" cy="280.8" r="2.1" fill="#d8d8d8" stroke="#999" stroke-width="0.6"/>
<circle cx="575.0" cy="280.3" r="2.1" fill="#d8d8d8" stroke="#999" stroke-width="0.6"/>
<circle cx="573.0" cy="289.3" r="2.1" fill="#d8d8d8" stroke="#999" stroke-width="0.6"/>
<circle cx="575.0" cy="289.3" r="2.1" fill="#d8d8d8" stroke="#999" stroke-width="0.6"/>
<circle cx="603.0" cy="310.3" r="2.1" fill="#d8d8d8" stroke="#999" stroke-width="0.6"/>
<circle cx="598.0" cy="337.3" r="2.1" fill="#d8d8d8" stroke="#999" stroke-width="0.6"/>
<circle cx="600.0" cy="337.8" r="2.1" fill="#d8d8d8" stroke="#999" stroke-width="0.6"/>
<circle cx="598.0" cy="347.3" r="2.1" fill="#d8d8d8" stroke="#999" stroke-width="0.6"/>
<circle cx="600.0" cy="347.8" r="2.1" fill="#d8d8d8" stroke="#999" stroke-width="0.6"/>
<circle cx="574.0" cy="363.3" r="2.1" fill="#d8d8d8" stroke="#999" stroke-width="0.6"/>
<circle cx="579.0" cy="361.3" r="2.1" fill="#d8d8d8" stroke="#999" stroke-width="0.6"/>
<circle cx="582.0" cy="364.3" r="2.1" fill="#d8d8d8" stroke="#999" stroke-width="0.6"/>
<circle cx="586.0" cy="357.3" r="2.1" fill="#d8d8d8" stroke="#999" stroke-width="0.6"/>
<circle cx="588.0" cy="360.3" r="2.1" fill="#d8d8d8" stroke="#999" stroke-width="0.6"/>
<circle cx="592.0" cy="358.3" r="2.1" fill="#d8d8d8" stroke="#999" stroke-width="0.6"/>
<circle cx="594.0" cy="361.3" r="2.1" fill="#d8d8d8" stroke="#999" stroke-width="0.6"/>
<circle cx="598.0" cy="359.3" r="2.1" fill="#d8d8d8" stroke="#999" stroke-width="0.6"/>
<circle cx="600.0" cy="362.3" r="2.1" fill="#d8d8d8" stroke="#999" stroke-width="0.6"/>
<circle cx="565.0" cy="375.3" r="2.1" fill="#d8d8d8" stroke="#999" stroke-width="0.6"/>
<circle cx="561.0" cy="29.5" r="2.35" fill="#e6e6e6" stroke="#2a2a2a" stroke-width="0.7"/>
<circle cx="616.7" cy="71.3" r="2.35" fill="#e6e6e6" stroke="#2a2a2a" stroke-width="0.7"/>
<circle cx="610.5" cy="80.3" r="2.35" fill="#e6e6e6" stroke="#2a2a2a" stroke-width="0.7"/>
<circle cx="613.0" cy="79.8" r="2.35" fill="#e6e6e6" stroke="#2a2a2a" stroke-width="0.7"/>
<circle cx="610.0" cy="88.3" r="2.35" fill="#e6e6e6" stroke="#2a2a2a" stroke-width="0.7"/>
<circle cx="555.4" cy="109.89999999999999" r="2.35" fill="#e6e6e6" stroke="#2a2a2a" stroke-width="0.7"/>
<circle cx="619.5" cy="104.8" r="2.35" fill="#e6e6e6" stroke="#2a2a2a" stroke-width="0.7"/>
<circle cx="603.0" cy="111.1" r="2.35" fill="#e6e6e6" stroke="#2a2a2a" stroke-width="0.7"/>
<circle cx="566.5" cy="125.3" r="2.35" fill="#e6e6e6" stroke="#2a2a2a" stroke-width="0.7"/>
<circle cx="561.0" cy="127.8" r="2.35" fill="#e6e6e6" stroke="#2a2a2a" stroke-width="0.7"/>
<circle cx="558.0" cy="130.8" r="2.35" fill="#e6e6e6" stroke="#2a2a2a" stroke-width="0.7"/>
<circle cx="563.5" cy="130.8" r="2.35" fill="#e6e6e6" stroke="#2a2a2a" stroke-width="0.7"/>
<circle cx="566.5" cy="132.8" r="2.35" fill="#e6e6e6" stroke="#2a2a2a" stroke-width="0.7"/>
<circle cx="611.5" cy="121.8" r="2.35" fill="#e6e6e6" stroke="#2a2a2a" stroke-width="0.7"/>
<circle cx="613.0" cy="126.8" r="2.35" fill="#e6e6e6" stroke="#2a2a2a" stroke-width="0.7"/>
<circle cx="617.5" cy="129.8" r="2.35" fill="#e6e6e6" stroke="#2a2a2a" stroke-width="0.7"/>
<circle cx="609.5" cy="133.8" r="2.35" fill="#e6e6e6" stroke="#2a2a2a" stroke-width="0.7"/>
<circle cx="565.8" cy="145.8" r="2.35" fill="#e6e6e6" stroke="#2a2a2a" stroke-width="0.7"/>
<circle cx="617.0" cy="143.3" r="2.35" fill="#e6e6e6" stroke="#2a2a2a" stroke-width="0.7"/>
<circle cx="560.0" cy="157.60000000000002" r="2.35" fill="#e6e6e6" stroke="#2a2a2a" stroke-width="0.7"/>
<circle cx="563.5" cy="177.3" r="2.35" fill="#e6e6e6" stroke="#2a2a2a" stroke-width="0.7"/>
<circle cx="571.5" cy="176.8" r="2.35" fill="#e6e6e6" stroke="#2a2a2a" stroke-width="0.7"/>
<circle cx="609.5" cy="186.9" r="2.35" fill="#e6e6e6" stroke="#2a2a2a" stroke-width="0.7"/>
<circle cx="612.5" cy="203.8" r="2.35" fill="#e6e6e6" stroke="#2a2a2a" stroke-width="0.7"/>
<circle cx="614.0" cy="205.3" r="2.35" fill="#e6e6e6" stroke="#2a2a2a" stroke-width="0.7"/>
<circle cx="616.0" cy="207.8" r="2.35" fill="#e6e6e6" stroke="#2a2a2a" stroke-width="0.7"/>
<circle cx="612.5" cy="208.8" r="2.35" fill="#e6e6e6" stroke="#2a2a2a" stroke-width="0.7"/>
<circle cx="614.5" cy="210.8" r="2.35" fill="#e6e6e6" stroke="#2a2a2a" stroke-width="0.7"/>
<circle cx="620.0" cy="209.3" r="2.35" fill="#e6e6e6" stroke="#2a2a2a" stroke-width="0.7"/>
<circle cx="563.5" cy="218.8" r="2.35" fill="#e6e6e6" stroke="#2a2a2a" stroke-width="0.7"/>
<circle cx="564.9" cy="229.20000000000002" r="2.35" fill="#e6e6e6" stroke="#2a2a2a" stroke-width="0.7"/>
<circle cx="565.5" cy="232.3" r="2.35" fill="#e6e6e6" stroke="#2a2a2a" stroke-width="0.7"/>
<circle cx="567.0" cy="234.3" r="2.35" fill="#e6e6e6" stroke="#2a2a2a" stroke-width="0.7"/>
<circle cx="561.6" cy="237.5" r="2.35" fill="#e6e6e6" stroke="#2a2a2a" stroke-width="0.7"/>
<circle cx="608.5" cy="236.3" r="2.35" fill="#e6e6e6" stroke="#2a2a2a" stroke-width="0.7"/>
<circle cx="607.5" cy="250.20000000000002" r="2.35" fill="#e6e6e6" stroke="#2a2a2a" stroke-width="0.7"/>
<circle cx="548.0" cy="310.8" r="2.35" fill="#e6e6e6" stroke="#2a2a2a" stroke-width="0.7"/>
<circle cx="628.5" cy="307.8" r="2.35" fill="#e6e6e6" stroke="#2a2a2a" stroke-width="0.7"/>
<circle cx="610.5" cy="310.3" r="2.35" fill="#e6e6e6" stroke="#2a2a2a" stroke-width="0.7"/>
<circle cx="613.0" cy="309.8" r="2.35" fill="#e6e6e6" stroke="#2a2a2a" stroke-width="0.7"/>
<circle cx="561.5" cy="328.0" r="2.35" fill="#e6e6e6" stroke="#2a2a2a" stroke-width="0.7"/>
<circle cx="563.5" cy="328.0" r="2.35" fill="#e6e6e6" stroke="#2a2a2a" stroke-width="0.7"/>
<circle cx="566.5" cy="336.40000000000003" r="2.35" fill="#e6e6e6" stroke="#2a2a2a" stroke-width="0.7"/>
<circle cx="608.0" cy="336.8" r="2.35" fill="#e6e6e6" stroke="#2a2a2a" stroke-width="0.7"/>
<circle cx="610.0" cy="337.8" r="2.35" fill="#e6e6e6" stroke="#2a2a2a" stroke-width="0.7"/>
<circle cx="559.5" cy="350.7" r="2.35" fill="#e6e6e6" stroke="#2a2a2a" stroke-width="0.7"/>
<circle cx="611.5" cy="348.8" r="2.35" fill="#e6e6e6" stroke="#2a2a2a" stroke-width="0.7"/>
<circle cx="621.5" cy="346.8" r="2.35" fill="#e6e6e6" stroke="#2a2a2a" stroke-width="0.7"/>
<circle cx="634.0" cy="348.8" r="2.35" fill="#e6e6e6" stroke="#2a2a2a" stroke-width="0.7"/>
<circle cx="616.0" cy="360.3" r="2.35" fill="#e6e6e6" stroke="#2a2a2a" stroke-width="0.7"/>
<circle cx="620.0" cy="358.8" r="2.35" fill="#e6e6e6" stroke="#2a2a2a" stroke-width="0.7"/>
<circle cx="624.0" cy="358.3" r="2.35" fill="#e6e6e6" stroke="#2a2a2a" stroke-width="0.7"/>
<circle cx="627.0" cy="358.3" r="2.35" fill="#e6e6e6" stroke="#2a2a2a" stroke-width="0.7"/>
<circle cx="622.0" cy="363.3" r="2.35" fill="#e6e6e6" stroke="#2a2a2a" stroke-width="0.7"/>
<circle cx="625.0" cy="363.3" r="2.35" fill="#e6e6e6" stroke="#2a2a2a" stroke-width="0.7"/>
<circle cx="554.5" cy="374.8" r="2.35" fill="#e6e6e6" stroke="#2a2a2a" stroke-width="0.7"/>
<line x1="635.0" y1="78.0" x2="623.0" y2="102.0" stroke="#7c2e2e" stroke-width="0.5" stroke-dasharray="1.5,1"/>
<line x1="625.0" y1="96.0" x2="623.0" y2="102.0" stroke="#7c2e2e" stroke-width="0.5" stroke-dasharray="1.5,1"/>
<line x1="525.0" y1="146.7" x2="538.0" y2="145.5" stroke="#7c2e2e" stroke-width="0.5" stroke-dasharray="1.5,1"/>
<line x1="531.0" y1="165.2" x2="555.0" y2="172.0" stroke="#7c2e2e" stroke-width="0.5" stroke-dasharray="1.5,1"/>
<line x1="530.0" y1="174.2" x2="542.0" y2="174.5" stroke="#7c2e2e" stroke-width="0.5" stroke-dasharray="1.5,1"/>
<line x1="645.0" y1="194.0" x2="631.0" y2="203.0" stroke="#7c2e2e" stroke-width="0.5" stroke-dasharray="1.5,1"/>
<line x1="521.0" y1="194.0" x2="548.0" y2="218.0" stroke="#7c2e2e" stroke-width="0.5" stroke-dasharray="1.5,1"/>
<line x1="519.0" y1="210.0" x2="549.0" y2="219.0" stroke="#7c2e2e" stroke-width="0.5" stroke-dasharray="1.5,1"/>
<line x1="510.0" y1="224.0" x2="535.0" y2="220.5" stroke="#7c2e2e" stroke-width="0.5" stroke-dasharray="1.5,1"/>
<line x1="516.0" y1="240.0" x2="535.0" y2="236.0" stroke="#7c2e2e" stroke-width="0.5" stroke-dasharray="1.5,1"/>
<line x1="527.0" y1="251.0" x2="553.0" y2="240.0" stroke="#7c2e2e" stroke-width="0.5" stroke-dasharray="1.5,1"/>
<line x1="542.0" y1="263.0" x2="552.0" y2="240.0" stroke="#7c2e2e" stroke-width="0.5" stroke-dasharray="1.5,1"/>
<line x1="545.0" y1="278.0" x2="553.0" y2="240.0" stroke="#7c2e2e" stroke-width="0.5" stroke-dasharray="1.5,1"/>
<line x1="555.0" y1="289.0" x2="556.0" y2="240.0" stroke="#7c2e2e" stroke-width="0.5" stroke-dasharray="1.5,1"/>
<line x1="624.0" y1="243.5" x2="590.0" y2="240.0" stroke="#7c2e2e" stroke-width="0.5" stroke-dasharray="1.5,1"/>
<line x1="622.0" y1="274.0" x2="630.0" y2="271.0" stroke="#7c2e2e" stroke-width="0.5" stroke-dasharray="1.5,1"/>
<line x1="539.0" y1="320.0" x2="543.0" y2="313.0" stroke="#7c2e2e" stroke-width="0.5" stroke-dasharray="1.5,1"/>
<line x1="542.0" y1="360.0" x2="555.0" y2="365.0" stroke="#7c2e2e" stroke-width="0.5" stroke-dasharray="1.5,1"/>
<line x1="634.0" y1="364.0" x2="644.0" y2="371.0" stroke="#7c2e2e" stroke-width="0.5" stroke-dasharray="1.5,1"/>
<line x1="540.0" y1="380.0" x2="546.0" y2="378.0" stroke="#7c2e2e" stroke-width="0.5" stroke-dasharray="1.5,1"/>
<circle cx="623.3" cy="104.8" r="2.45" fill="#e3a9a9" stroke="#6a1717" stroke-width="1.25"/>
<circle cx="623.3" cy="104.8" r="0.5" fill="#6a1717" opacity="0.25"/>
<circle cx="621.5" cy="111.1" r="2.45" fill="#e3a9a9" stroke="#6a1717" stroke-width="1.25"/>
<circle cx="621.5" cy="111.1" r="0.5" fill="#6a1717" opacity="0.25"/>
<circle cx="554.8" cy="144.8" r="2.45" fill="#e3a9a9" stroke="#6a1717" stroke-width="1.25"/>
<circle cx="554.8" cy="144.8" r="0.5" fill="#6a1717" opacity="0.25"/>
<circle cx="557.9" cy="174.8" r="2.45" fill="#e3a9a9" stroke="#6a1717" stroke-width="1.25"/>
<circle cx="557.9" cy="174.8" r="0.5" fill="#6a1717" opacity="0.25"/>
<circle cx="626.5" cy="207.3" r="2.45" fill="#e3a9a9" stroke="#6a1717" stroke-width="1.25"/>
<circle cx="626.5" cy="207.3" r="0.5" fill="#6a1717" opacity="0.25"/>
<circle cx="551.5" cy="221.8" r="2.45" fill="#e3a9a9" stroke="#6a1717" stroke-width="1.25"/>
<circle cx="551.5" cy="221.8" r="0.5" fill="#6a1717" opacity="0.25"/>
<circle cx="554.5" cy="219.8" r="2.45" fill="#e3a9a9" stroke="#6a1717" stroke-width="1.25"/>
<circle cx="554.5" cy="219.8" r="0.5" fill="#6a1717" opacity="0.25"/>
<circle cx="558.9" cy="229.9" r="2.45" fill="#e3a9a9" stroke="#6a1717" stroke-width="1.25"/>
<circle cx="558.9" cy="229.9" r="0.5" fill="#6a1717" opacity="0.25"/>
<circle cx="553.7" cy="232.5" r="2.45" fill="#e3a9a9" stroke="#6a1717" stroke-width="1.25"/>
<circle cx="553.7" cy="232.5" r="0.5" fill="#6a1717" opacity="0.25"/>
<circle cx="556.3" cy="234.5" r="2.45" fill="#e3a9a9" stroke="#6a1717" stroke-width="1.25"/>
<circle cx="556.3" cy="234.5" r="0.5" fill="#6a1717" opacity="0.25"/>
<circle cx="551.1" cy="237.10000000000002" r="2.45" fill="#e3a9a9" stroke="#6a1717" stroke-width="1.25"/>
<circle cx="551.1" cy="237.10000000000002" r="0.5" fill="#6a1717" opacity="0.25"/>
<circle cx="556.0" cy="238.10000000000002" r="2.45" fill="#e3a9a9" stroke="#6a1717" stroke-width="1.25"/>
<circle cx="556.0" cy="238.10000000000002" r="0.5" fill="#6a1717" opacity="0.25"/>
<circle cx="623.5" cy="268.7" r="2.45" fill="#e3a9a9" stroke="#6a1717" stroke-width="1.25"/>
<circle cx="623.5" cy="268.7" r="0.5" fill="#6a1717" opacity="0.25"/>
<circle cx="543.9" cy="309.6" r="2.45" fill="#e3a9a9" stroke="#6a1717" stroke-width="1.25"/>
<circle cx="543.9" cy="309.6" r="0.5" fill="#6a1717" opacity="0.25"/>
<circle cx="631.5" cy="360.3" r="2.45" fill="#e3a9a9" stroke="#6a1717" stroke-width="1.25"/>
<circle cx="631.5" cy="360.3" r="0.5" fill="#6a1717" opacity="0.25"/>
<circle cx="557.2" cy="366.8" r="2.45" fill="#e3a9a9" stroke="#6a1717" stroke-width="1.25"/>
<circle cx="557.2" cy="366.8" r="0.5" fill="#6a1717" opacity="0.25"/>
<circle cx="548.2" cy="375.3" r="2.45" fill="#e3a9a9" stroke="#6a1717" stroke-width="1.25"/>
<circle cx="548.2" cy="375.3" r="0.5" fill="#6a1717" opacity="0.25"/>
<text x="637.2" y="80.39999999999999" text-anchor="start" font-family='"Liberation Sans", sans-serif' font-size="6.5" fill="#7c2e2e">SM(34:3)</text>
<text x="626.9" y="96.89999999999999" text-anchor="start" font-family='"Liberation Sans", sans-serif' font-size="6.5" fill="#7c2e2e">SM(d18:2/18:1)</text>
<text x="523.4" y="149.29999999999998" text-anchor="end" font-family='"Liberation Sans", sans-serif' font-size="6.5" fill="#7c2e2e">PC(O-36:5)</text>
<text x="529.8" y="167.79999999999998" text-anchor="end" font-family='"Liberation Sans", sans-serif' font-size="6.5" fill="#7c2e2e">LPC(20:5) [sn2]</text>
<text x="527.9" y="176.79999999999998" text-anchor="end" font-family='"Liberation Sans", sans-serif' font-size="6.5" fill="#7c2e2e">LPC(20:5) [sn1]</text>
<text x="630.2" y="193.9" text-anchor="start" font-family='"Liberation Sans", sans-serif' font-size="6.5" fill="#7c2e2e">PE(16:0_20:3)</text>
<text x="519.6" y="196.5" text-anchor="end" font-family='"Liberation Sans", sans-serif' font-size="6.5" fill="#7c2e2e">PE(O-16:0/22:6)</text>
<text x="516.6" y="212.5" text-anchor="end" font-family='"Liberation Sans", sans-serif' font-size="6.5" fill="#7c2e2e">PE(O-18:1/22:6)</text>
<text x="507.9" y="226.4" text-anchor="end" font-family='"Liberation Sans", sans-serif' font-size="6.5" fill="#7c2e2e">PE(O-36:5)</text>
<text x="513.7" y="242.5" text-anchor="end" font-family='"Liberation Sans", sans-serif' font-size="6.5" fill="#7c2e2e">PE(P-16:0/20:5)</text>
<text x="525.5" y="254.2" text-anchor="end" font-family='"Liberation Sans", sans-serif' font-size="6.5" fill="#7c2e2e">PE(P-18:1/20:5) (a)</text>
<text x="539.9" y="265.90000000000003" text-anchor="end" font-family='"Liberation Sans", sans-serif' font-size="6.5" fill="#7c2e2e">PE(P-15:0/22:6) (b)</text>
<text x="542.8" y="281.1" text-anchor="end" font-family='"Liberation Sans", sans-serif' font-size="6.5" fill="#7c2e2e">PE(P-16:0/22:6)</text>
<text x="552.8" y="292.1" text-anchor="end" font-family='"Liberation Sans", sans-serif' font-size="6.5" fill="#7c2e2e">PE(P-18:1/22:6) (a)</text>
<text x="625.3" y="246.1" text-anchor="start" font-family='"Liberation Sans", sans-serif' font-size="6.5" fill="#7c2e2e">PE(P-18:0/20:5)</text>
<text x="623.4" y="279.8" text-anchor="start" font-family='"Liberation Sans", sans-serif' font-size="6.5" fill="#7c2e2e">PI(16:0_20:3) (a)</text>
<text x="537.5" y="322.8" text-anchor="end" font-family='"Liberation Sans", sans-serif' font-size="6.5" fill="#7c2e2e">CE(20:5)</text>
<text x="539.4" y="362.20000000000005" text-anchor="end" font-family='"Liberation Sans", sans-serif' font-size="6.5" fill="#7c2e2e">TG(58:8) [NL-22:6]</text>
<text x="618.0" y="378.70000000000005" text-anchor="start" font-family='"Liberation Sans", sans-serif' font-size="6.5" fill="#7c2e2e">TG(50:3) [NL-18:1]</text>
<text x="538.7" y="385.6" text-anchor="end" font-family='"Liberation Sans", sans-serif' font-size="6.5" fill="#7c2e2e">TG(O-52:2) [NL-16:0]</text>
<circle cx="291.8" cy="449.8" r="4.05" fill="#b9cde8" stroke="#0f2a4e" stroke-width="1.75"/>
<circle cx="306.9" cy="449.8" r="4.05" fill="#d3e3b5" stroke="#4e6c26" stroke-width="1.75"/>
<circle cx="321.6" cy="449.8" r="4.05" fill="#e6adad" stroke="#6a1717" stroke-width="1.75"/>
<text x="331.7" y="452.9" font-family='"Liberation Sans", sans-serif' font-size="8.75" fill="#222">Top 20 ranked by <tspan font-style="italic">p</tspan>-value</text>
</svg>
</body></html>
